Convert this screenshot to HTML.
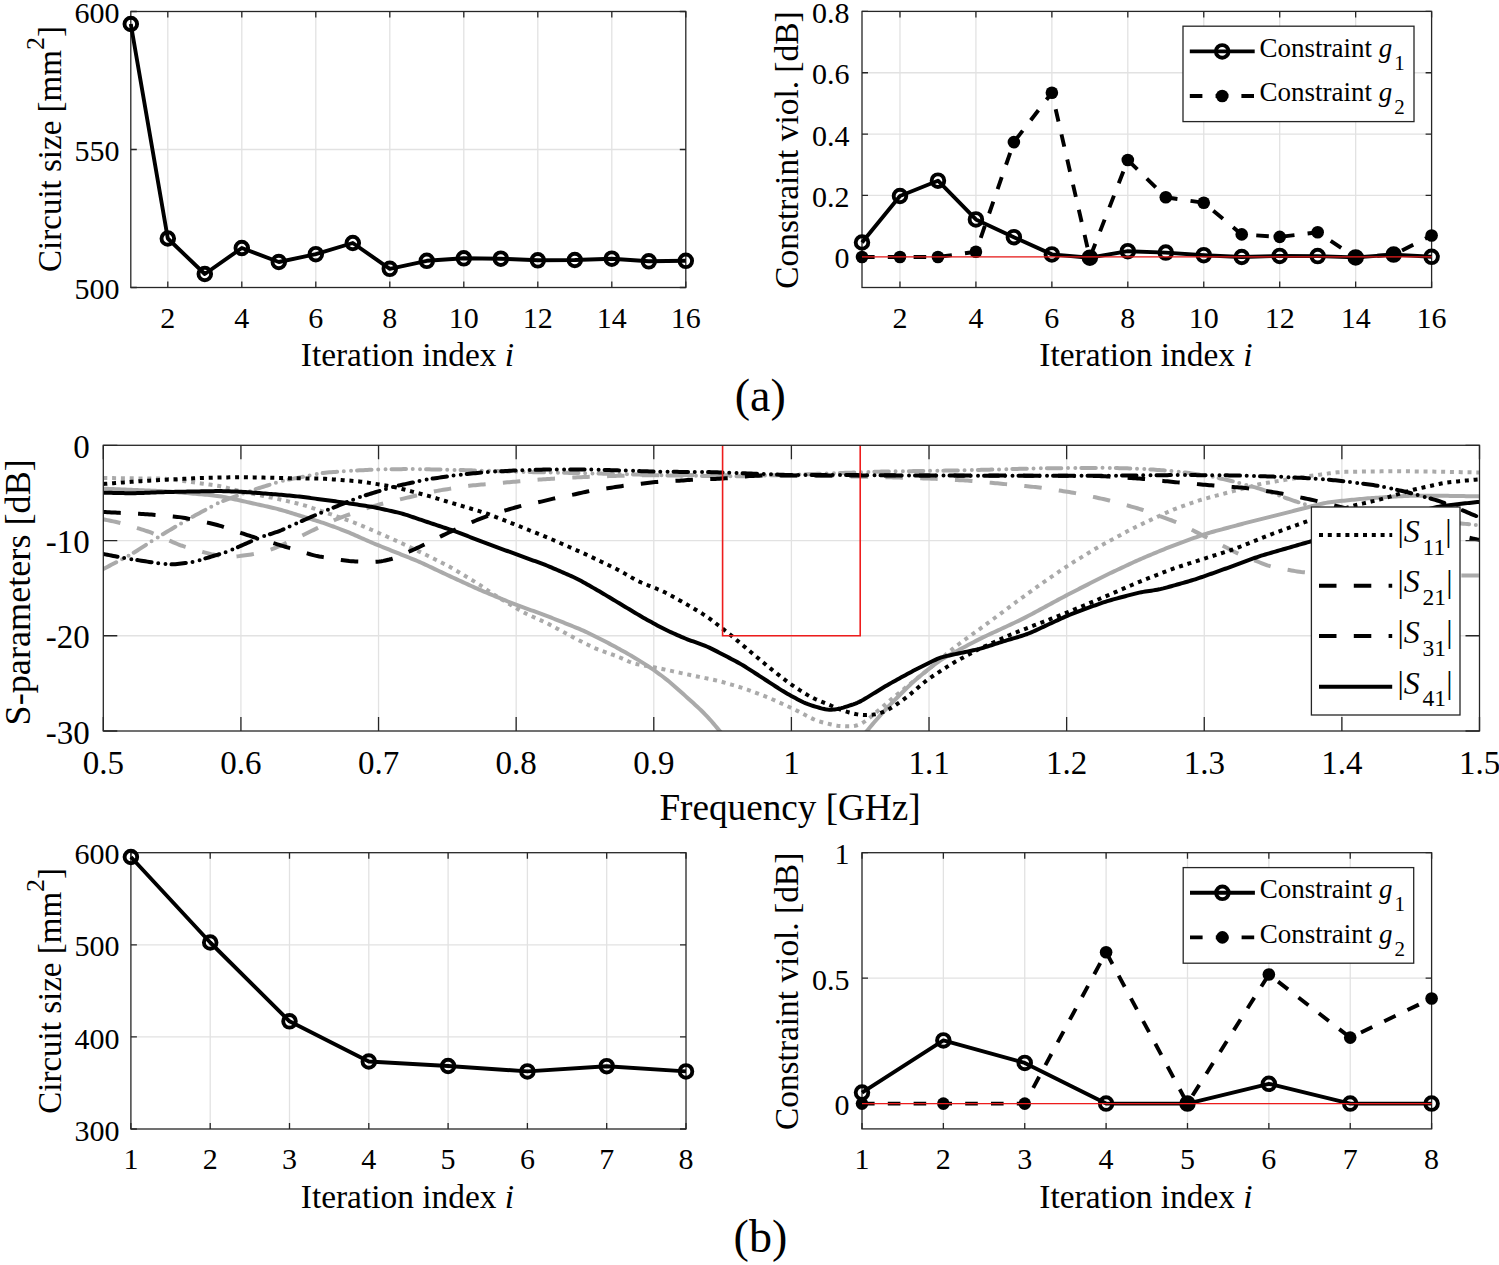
<!DOCTYPE html><html><head><meta charset="utf-8"><title>figure</title><style>
html,body{margin:0;padding:0;background:#fff;}svg{display:block;}
text{font-family:"Liberation Serif", serif;fill:#000;}
.grid{stroke:#e2e2e2;stroke-width:1.3;fill:none;}
.ax{stroke:#262626;stroke-width:1.3;fill:none;}
.dl{stroke:#000;stroke-width:3.9;fill:none;stroke-linejoin:round;}
.mk{stroke:#000;stroke-width:3.9;fill:none;}
.s{fill:none;stroke-width:4;stroke-linejoin:round;}
</style></head><body>
<svg width="1499" height="1265" viewBox="0 0 1499 1265">
<rect width="1499" height="1265" fill="#fff"/>
<line x1="167.8" y1="11.5" x2="167.8" y2="287.5" class="grid"/>
<line x1="241.8" y1="11.5" x2="241.8" y2="287.5" class="grid"/>
<line x1="315.8" y1="11.5" x2="315.8" y2="287.5" class="grid"/>
<line x1="389.8" y1="11.5" x2="389.8" y2="287.5" class="grid"/>
<line x1="463.8" y1="11.5" x2="463.8" y2="287.5" class="grid"/>
<line x1="537.8" y1="11.5" x2="537.8" y2="287.5" class="grid"/>
<line x1="611.8" y1="11.5" x2="611.8" y2="287.5" class="grid"/>
<line x1="130.8" y1="149.5" x2="685.8" y2="149.5" class="grid"/>
<rect x="130.8" y="11.5" width="555" height="276" class="ax"/>
<path d="M167.8,287.5v-6 M167.8,11.5v6 M241.8,287.5v-6 M241.8,11.5v6 M315.8,287.5v-6 M315.8,11.5v6 M389.8,287.5v-6 M389.8,11.5v6 M463.8,287.5v-6 M463.8,11.5v6 M537.8,287.5v-6 M537.8,11.5v6 M611.8,287.5v-6 M611.8,11.5v6 M685.8,287.5v-6 M685.8,11.5v6 M130.8,287.5h6 M685.8,287.5h-6 M130.8,149.5h6 M685.8,149.5h-6 M130.8,11.5h6 M685.8,11.5h-6" class="ax"/>
<polyline points="130.8,24 167.8,238.5 204.8,274 241.8,248 278.8,262 315.8,254.2 352.8,243 389.8,268.8 426.8,260.8 463.8,258.3 500.8,258.7 537.8,260.3 574.8,260 611.8,258.7 648.8,261.3 685.8,260.8" class="dl"/>
<circle cx="130.8" cy="24" r="6.3" class="mk"/>
<circle cx="167.8" cy="238.5" r="6.3" class="mk"/>
<circle cx="204.8" cy="274" r="6.3" class="mk"/>
<circle cx="241.8" cy="248" r="6.3" class="mk"/>
<circle cx="278.8" cy="262" r="6.3" class="mk"/>
<circle cx="315.8" cy="254.2" r="6.3" class="mk"/>
<circle cx="352.8" cy="243" r="6.3" class="mk"/>
<circle cx="389.8" cy="268.8" r="6.3" class="mk"/>
<circle cx="426.8" cy="260.8" r="6.3" class="mk"/>
<circle cx="463.8" cy="258.3" r="6.3" class="mk"/>
<circle cx="500.8" cy="258.7" r="6.3" class="mk"/>
<circle cx="537.8" cy="260.3" r="6.3" class="mk"/>
<circle cx="574.8" cy="260" r="6.3" class="mk"/>
<circle cx="611.8" cy="258.7" r="6.3" class="mk"/>
<circle cx="648.8" cy="261.3" r="6.3" class="mk"/>
<circle cx="685.8" cy="260.8" r="6.3" class="mk"/>
<text x="167.8" y="327.5" font-size="30" text-anchor="middle">2</text>
<text x="241.8" y="327.5" font-size="30" text-anchor="middle">4</text>
<text x="315.8" y="327.5" font-size="30" text-anchor="middle">6</text>
<text x="389.8" y="327.5" font-size="30" text-anchor="middle">8</text>
<text x="463.8" y="327.5" font-size="30" text-anchor="middle">10</text>
<text x="537.8" y="327.5" font-size="30" text-anchor="middle">12</text>
<text x="611.8" y="327.5" font-size="30" text-anchor="middle">14</text>
<text x="685.8" y="327.5" font-size="30" text-anchor="middle">16</text>
<text x="119.5" y="299.1" font-size="30" text-anchor="end">500</text>
<text x="119.5" y="161.1" font-size="30" text-anchor="end">550</text>
<text x="119.5" y="23.1" font-size="30" text-anchor="end">600</text>
<text x="407.4" y="366.1" font-size="33.4" text-anchor="middle">Iteration index <tspan font-style="italic">i</tspan></text>
<text transform="translate(60.8,149) rotate(-90)" font-size="33" text-anchor="middle">Circuit size [mm<tspan font-size="26" dy="-16.5">2</tspan><tspan dy="16.5">]</tspan></text>
<line x1="899.97" y1="11.4" x2="899.97" y2="287.5" class="grid"/>
<line x1="975.92" y1="11.4" x2="975.92" y2="287.5" class="grid"/>
<line x1="1051.87" y1="11.4" x2="1051.87" y2="287.5" class="grid"/>
<line x1="1127.81" y1="11.4" x2="1127.81" y2="287.5" class="grid"/>
<line x1="1203.76" y1="11.4" x2="1203.76" y2="287.5" class="grid"/>
<line x1="1279.71" y1="11.4" x2="1279.71" y2="287.5" class="grid"/>
<line x1="1355.65" y1="11.4" x2="1355.65" y2="287.5" class="grid"/>
<line x1="862" y1="256.8" x2="1431.6" y2="256.8" class="grid"/>
<line x1="862" y1="195.45" x2="1431.6" y2="195.45" class="grid"/>
<line x1="862" y1="134.1" x2="1431.6" y2="134.1" class="grid"/>
<line x1="862" y1="72.75" x2="1431.6" y2="72.75" class="grid"/>
<rect x="862" y="11.4" width="569.6" height="276.1" class="ax"/>
<path d="M899.97,287.5v-6 M899.97,11.4v6 M975.92,287.5v-6 M975.92,11.4v6 M1051.87,287.5v-6 M1051.87,11.4v6 M1127.81,287.5v-6 M1127.81,11.4v6 M1203.76,287.5v-6 M1203.76,11.4v6 M1279.71,287.5v-6 M1279.71,11.4v6 M1355.65,287.5v-6 M1355.65,11.4v6 M1431.6,287.5v-6 M1431.6,11.4v6 M862,256.8h6 M1431.6,256.8h-6 M862,195.45h6 M1431.6,195.45h-6 M862,134.1h6 M1431.6,134.1h-6 M862,72.75h6 M1431.6,72.75h-6 M862,11.4h6 M1431.6,11.4h-6" class="ax"/>
<polyline points="862,242.5 899.97,196 937.95,180.7 975.92,219.4 1013.89,237.2 1051.87,254.4 1089.84,257.7 1127.81,251.2 1165.79,252.6 1203.76,255.2 1241.73,257 1279.71,255.9 1317.68,256.1 1355.65,257.4 1393.63,254.6 1431.6,256.8" class="dl"/>
<circle cx="862" cy="242.5" r="6.3" class="mk"/>
<circle cx="899.97" cy="196" r="6.3" class="mk"/>
<circle cx="937.95" cy="180.7" r="6.3" class="mk"/>
<circle cx="975.92" cy="219.4" r="6.3" class="mk"/>
<circle cx="1013.89" cy="237.2" r="6.3" class="mk"/>
<circle cx="1051.87" cy="254.4" r="6.3" class="mk"/>
<circle cx="1089.84" cy="257.7" r="6.3" class="mk"/>
<circle cx="1127.81" cy="251.2" r="6.3" class="mk"/>
<circle cx="1165.79" cy="252.6" r="6.3" class="mk"/>
<circle cx="1203.76" cy="255.2" r="6.3" class="mk"/>
<circle cx="1241.73" cy="257" r="6.3" class="mk"/>
<circle cx="1279.71" cy="255.9" r="6.3" class="mk"/>
<circle cx="1317.68" cy="256.1" r="6.3" class="mk"/>
<circle cx="1355.65" cy="257.4" r="6.3" class="mk"/>
<circle cx="1393.63" cy="254.6" r="6.3" class="mk"/>
<circle cx="1431.6" cy="256.8" r="6.3" class="mk"/>
<polyline points="862,257 899.97,257 937.95,257 975.92,251.8 1013.89,142.1 1051.87,92.7 1089.84,257.7 1127.81,160 1165.79,197.3 1203.76,202.7 1241.73,234.4 1279.71,236.9 1317.68,232.2 1355.65,257.4 1393.63,254.6 1431.6,235.5" class="dl" stroke-dasharray="12.6 13.2"/>
<circle cx="862" cy="257" r="6.3" fill="#000"/>
<circle cx="899.97" cy="257" r="6.3" fill="#000"/>
<circle cx="937.95" cy="257" r="6.3" fill="#000"/>
<circle cx="975.92" cy="251.8" r="6.3" fill="#000"/>
<circle cx="1013.89" cy="142.1" r="6.3" fill="#000"/>
<circle cx="1051.87" cy="92.7" r="6.3" fill="#000"/>
<circle cx="1089.84" cy="257.7" r="6.3" fill="#000"/>
<circle cx="1127.81" cy="160" r="6.3" fill="#000"/>
<circle cx="1165.79" cy="197.3" r="6.3" fill="#000"/>
<circle cx="1203.76" cy="202.7" r="6.3" fill="#000"/>
<circle cx="1241.73" cy="234.4" r="6.3" fill="#000"/>
<circle cx="1279.71" cy="236.9" r="6.3" fill="#000"/>
<circle cx="1317.68" cy="232.2" r="6.3" fill="#000"/>
<circle cx="1355.65" cy="257.4" r="6.3" fill="#000"/>
<circle cx="1393.63" cy="254.6" r="6.3" fill="#000"/>
<circle cx="1431.6" cy="235.5" r="6.3" fill="#000"/>
<line x1="862" y1="256.8" x2="1431.6" y2="256.8" stroke="#ee1c1c" stroke-width="1.3"/>
<text x="899.97" y="327.5" font-size="30" text-anchor="middle">2</text>
<text x="975.92" y="327.5" font-size="30" text-anchor="middle">4</text>
<text x="1051.87" y="327.5" font-size="30" text-anchor="middle">6</text>
<text x="1127.81" y="327.5" font-size="30" text-anchor="middle">8</text>
<text x="1203.76" y="327.5" font-size="30" text-anchor="middle">10</text>
<text x="1279.71" y="327.5" font-size="30" text-anchor="middle">12</text>
<text x="1355.65" y="327.5" font-size="30" text-anchor="middle">14</text>
<text x="1431.6" y="327.5" font-size="30" text-anchor="middle">16</text>
<text x="849.4" y="268.4" font-size="30" text-anchor="end">0</text>
<text x="849.4" y="207.05" font-size="30" text-anchor="end">0.2</text>
<text x="849.4" y="145.7" font-size="30" text-anchor="end">0.4</text>
<text x="849.4" y="84.35" font-size="30" text-anchor="end">0.6</text>
<text x="849.4" y="23" font-size="30" text-anchor="end">0.8</text>
<rect x="1183" y="26.2" width="231" height="95.4" class="ax" style="fill:#fff"/>
<line x1="1189.8" y1="51.4" x2="1254.7" y2="51.4" class="dl"/>
<circle cx="1222.2" cy="51.4" r="6.3" class="mk" fill="#fff"/>
<line x1="1189.8" y1="96" x2="1254.7" y2="96" class="dl" stroke-dasharray="12.6 13.2"/>
<circle cx="1222.2" cy="96" r="6.3" fill="#000"/>
<text x="1259.5" y="56.8" font-size="27">Constraint <tspan font-style="italic">g</tspan><tspan font-size="21" dx="2" dy="13">1</tspan></text>
<text x="1259.5" y="101.4" font-size="27">Constraint <tspan font-style="italic">g</tspan><tspan font-size="21" dx="2" dy="13">2</tspan></text>
<text x="1146" y="366.1" font-size="33.4" text-anchor="middle">Iteration index <tspan font-style="italic">i</tspan></text>
<text transform="translate(798,150.1) rotate(-90)" font-size="33.4" text-anchor="middle">Constraint viol. [dB]</text>
<text x="760.2" y="411.2" font-size="46" text-anchor="middle">(a)</text>
<line x1="210.2" y1="852.7" x2="210.2" y2="1129" class="grid"/>
<line x1="289.5" y1="852.7" x2="289.5" y2="1129" class="grid"/>
<line x1="368.8" y1="852.7" x2="368.8" y2="1129" class="grid"/>
<line x1="448.1" y1="852.7" x2="448.1" y2="1129" class="grid"/>
<line x1="527.4" y1="852.7" x2="527.4" y2="1129" class="grid"/>
<line x1="606.7" y1="852.7" x2="606.7" y2="1129" class="grid"/>
<line x1="130.9" y1="1036.9" x2="686" y2="1036.9" class="grid"/>
<line x1="130.9" y1="944.8" x2="686" y2="944.8" class="grid"/>
<rect x="130.9" y="852.7" width="555.1" height="276.3" class="ax"/>
<path d="M130.9,1129v-6 M130.9,852.7v6 M210.2,1129v-6 M210.2,852.7v6 M289.5,1129v-6 M289.5,852.7v6 M368.8,1129v-6 M368.8,852.7v6 M448.1,1129v-6 M448.1,852.7v6 M527.4,1129v-6 M527.4,852.7v6 M606.7,1129v-6 M606.7,852.7v6 M686,1129v-6 M686,852.7v6 M130.9,1129h6 M686,1129h-6 M130.9,1036.9h6 M686,1036.9h-6 M130.9,944.8h6 M686,944.8h-6 M130.9,852.7h6 M686,852.7h-6" class="ax"/>
<polyline points="130.9,857 210.2,942.5 289.5,1021.3 368.8,1061.5 448.1,1066 527.4,1071.4 606.7,1066.2 686,1071.4" class="dl"/>
<circle cx="130.9" cy="857" r="6.3" class="mk"/>
<circle cx="210.2" cy="942.5" r="6.3" class="mk"/>
<circle cx="289.5" cy="1021.3" r="6.3" class="mk"/>
<circle cx="368.8" cy="1061.5" r="6.3" class="mk"/>
<circle cx="448.1" cy="1066" r="6.3" class="mk"/>
<circle cx="527.4" cy="1071.4" r="6.3" class="mk"/>
<circle cx="606.7" cy="1066.2" r="6.3" class="mk"/>
<circle cx="686" cy="1071.4" r="6.3" class="mk"/>
<text x="130.9" y="1169" font-size="30" text-anchor="middle">1</text>
<text x="210.2" y="1169" font-size="30" text-anchor="middle">2</text>
<text x="289.5" y="1169" font-size="30" text-anchor="middle">3</text>
<text x="368.8" y="1169" font-size="30" text-anchor="middle">4</text>
<text x="448.1" y="1169" font-size="30" text-anchor="middle">5</text>
<text x="527.4" y="1169" font-size="30" text-anchor="middle">6</text>
<text x="606.7" y="1169" font-size="30" text-anchor="middle">7</text>
<text x="686" y="1169" font-size="30" text-anchor="middle">8</text>
<text x="119.6" y="1140.6" font-size="30" text-anchor="end">300</text>
<text x="119.6" y="1048.5" font-size="30" text-anchor="end">400</text>
<text x="119.6" y="956.4" font-size="30" text-anchor="end">500</text>
<text x="119.6" y="864.3" font-size="30" text-anchor="end">600</text>
<text x="407.4" y="1207.5" font-size="33.4" text-anchor="middle">Iteration index <tspan font-style="italic">i</tspan></text>
<text transform="translate(60.8,990.8) rotate(-90)" font-size="33" text-anchor="middle">Circuit size [mm<tspan font-size="26" dy="-16.5">2</tspan><tspan dy="16.5">]</tspan></text>
<line x1="943.37" y1="852.7" x2="943.37" y2="1128.9" class="grid"/>
<line x1="1024.74" y1="852.7" x2="1024.74" y2="1128.9" class="grid"/>
<line x1="1106.11" y1="852.7" x2="1106.11" y2="1128.9" class="grid"/>
<line x1="1187.49" y1="852.7" x2="1187.49" y2="1128.9" class="grid"/>
<line x1="1268.86" y1="852.7" x2="1268.86" y2="1128.9" class="grid"/>
<line x1="1350.23" y1="852.7" x2="1350.23" y2="1128.9" class="grid"/>
<line x1="862" y1="1103.6" x2="1431.6" y2="1103.6" class="grid"/>
<line x1="862" y1="978.15" x2="1431.6" y2="978.15" class="grid"/>
<rect x="862" y="852.7" width="569.6" height="276.2" class="ax"/>
<path d="M862,1128.9v-6 M862,852.7v6 M943.37,1128.9v-6 M943.37,852.7v6 M1024.74,1128.9v-6 M1024.74,852.7v6 M1106.11,1128.9v-6 M1106.11,852.7v6 M1187.49,1128.9v-6 M1187.49,852.7v6 M1268.86,1128.9v-6 M1268.86,852.7v6 M1350.23,1128.9v-6 M1350.23,852.7v6 M1431.6,1128.9v-6 M1431.6,852.7v6 M862,1103.6h6 M1431.6,1103.6h-6 M862,978.15h6 M1431.6,978.15h-6 M862,852.7h6 M1431.6,852.7h-6" class="ax"/>
<polyline points="862,1092.6 943.37,1040.4 1024.74,1062.9 1106.11,1103.6 1187.49,1103.6 1268.86,1083.8 1350.23,1103.6 1431.6,1103.6" class="dl"/>
<circle cx="862" cy="1092.6" r="6.3" class="mk"/>
<circle cx="943.37" cy="1040.4" r="6.3" class="mk"/>
<circle cx="1024.74" cy="1062.9" r="6.3" class="mk"/>
<circle cx="1106.11" cy="1103.6" r="6.3" class="mk"/>
<circle cx="1187.49" cy="1103.6" r="6.3" class="mk"/>
<circle cx="1268.86" cy="1083.8" r="6.3" class="mk"/>
<circle cx="1350.23" cy="1103.6" r="6.3" class="mk"/>
<circle cx="1431.6" cy="1103.6" r="6.3" class="mk"/>
<polyline points="862,1103.6 943.37,1103.6 1024.74,1103.6 1106.11,952.2 1187.49,1103.6 1268.86,974.5 1350.23,1037.6 1431.6,998.5" class="dl" stroke-dasharray="12.6 13.2"/>
<circle cx="862" cy="1103.6" r="6.3" fill="#000"/>
<circle cx="943.37" cy="1103.6" r="6.3" fill="#000"/>
<circle cx="1024.74" cy="1103.6" r="6.3" fill="#000"/>
<circle cx="1106.11" cy="952.2" r="6.3" fill="#000"/>
<circle cx="1187.49" cy="1103.6" r="6.3" fill="#000"/>
<circle cx="1268.86" cy="974.5" r="6.3" fill="#000"/>
<circle cx="1350.23" cy="1037.6" r="6.3" fill="#000"/>
<circle cx="1431.6" cy="998.5" r="6.3" fill="#000"/>
<line x1="862" y1="1103.6" x2="1431.6" y2="1103.6" stroke="#ee1c1c" stroke-width="1.3"/>
<text x="862" y="1169" font-size="30" text-anchor="middle">1</text>
<text x="943.37" y="1169" font-size="30" text-anchor="middle">2</text>
<text x="1024.74" y="1169" font-size="30" text-anchor="middle">3</text>
<text x="1106.11" y="1169" font-size="30" text-anchor="middle">4</text>
<text x="1187.49" y="1169" font-size="30" text-anchor="middle">5</text>
<text x="1268.86" y="1169" font-size="30" text-anchor="middle">6</text>
<text x="1350.23" y="1169" font-size="30" text-anchor="middle">7</text>
<text x="1431.6" y="1169" font-size="30" text-anchor="middle">8</text>
<text x="849.4" y="1115.2" font-size="30" text-anchor="end">0</text>
<text x="849.4" y="989.75" font-size="30" text-anchor="end">0.5</text>
<text x="849.4" y="864.3" font-size="30" text-anchor="end">1</text>
<rect x="1183.2" y="867.6" width="230.5" height="95.6" class="ax" style="fill:#fff"/>
<line x1="1190" y1="892.8" x2="1254.9" y2="892.8" class="dl"/>
<circle cx="1222.4" cy="892.8" r="6.3" class="mk" fill="#fff"/>
<line x1="1190" y1="937.4" x2="1254.9" y2="937.4" class="dl" stroke-dasharray="12.6 13.2"/>
<circle cx="1222.4" cy="937.4" r="6.3" fill="#000"/>
<text x="1259.7" y="898.2" font-size="27">Constraint <tspan font-style="italic">g</tspan><tspan font-size="21" dx="2" dy="13">1</tspan></text>
<text x="1259.7" y="942.8" font-size="27">Constraint <tspan font-style="italic">g</tspan><tspan font-size="21" dx="2" dy="13">2</tspan></text>
<text x="1146" y="1207.5" font-size="33.4" text-anchor="middle">Iteration index <tspan font-style="italic">i</tspan></text>
<text transform="translate(798,991.4) rotate(-90)" font-size="33.4" text-anchor="middle">Constraint viol. [dB]</text>
<text x="760.4" y="1252.1" font-size="46" text-anchor="middle">(b)</text>
<line x1="240.92" y1="445.3" x2="240.92" y2="731" class="grid"/>
<line x1="378.54" y1="445.3" x2="378.54" y2="731" class="grid"/>
<line x1="516.16" y1="445.3" x2="516.16" y2="731" class="grid"/>
<line x1="653.78" y1="445.3" x2="653.78" y2="731" class="grid"/>
<line x1="791.4" y1="445.3" x2="791.4" y2="731" class="grid"/>
<line x1="929.02" y1="445.3" x2="929.02" y2="731" class="grid"/>
<line x1="1066.64" y1="445.3" x2="1066.64" y2="731" class="grid"/>
<line x1="1204.26" y1="445.3" x2="1204.26" y2="731" class="grid"/>
<line x1="1341.88" y1="445.3" x2="1341.88" y2="731" class="grid"/>
<line x1="103.3" y1="540.53" x2="1479.5" y2="540.53" class="grid"/>
<line x1="103.3" y1="635.77" x2="1479.5" y2="635.77" class="grid"/>
<defs><clipPath id="mclip"><rect x="103.3" y="445.3" width="1376.2" height="285.7"/></clipPath></defs>
<g clip-path="url(#mclip)">
<path d="M103.3,478 L105.3,478.02 L107.3,478.04 L109.3,478.07 L111.3,478.09 L113.3,478.11 L115.3,478.13 L117.3,478.15 L119.3,478.18 L121.3,478.2 L123.3,478.22 L125.3,478.24 L127.3,478.26 L129.3,478.29 L131.3,478.31 L133.3,478.33 L135.3,478.35 L137.3,478.38 L139.3,478.4 L141.3,478.42 L143.3,478.44 L145.3,478.46 L147.3,478.49 L149.3,478.51 L151.3,478.53 L153.3,478.55 L155.3,478.57 L157.3,478.6 L159.3,478.62 L161.3,478.66 L163.3,478.72 L165.3,478.81 L167.3,478.95 L169.3,479.13 L171.3,479.36 L173.3,479.61 L175.3,479.88 L177.3,480.15 L179.3,480.43 L181.3,480.7 L183.3,480.97 L185.3,481.25 L187.3,481.52 L189.3,481.8 L191.3,482.07 L193.3,482.34 L195.3,482.62 L197.3,482.89 L199.3,483.16 L201.3,483.44 L203.3,483.71 L205.3,483.99 L207.3,484.26 L209.3,484.54 L211.3,484.81 L213.3,485.09 L215.3,485.38 L217.3,485.7 L219.3,486.05 L221.3,486.45 L223.3,486.89 L225.3,487.36 L227.3,487.85 L229.3,488.35 L231.3,488.85 L233.3,489.35 L235.3,489.86 L237.3,490.35 L239.3,490.83 L241.3,491.3 L243.3,491.75 L245.3,492.18 L247.3,492.6 L249.3,493.02 L251.3,493.44 L253.3,493.85 L255.3,494.27 L257.3,494.69 L259.3,495.1 L261.3,495.52 L263.3,495.93 L265.3,496.35 L267.3,496.76 L269.3,497.18 L271.3,497.59 L273.3,498.01 L275.3,498.43 L277.3,498.86 L279.3,499.29 L281.3,499.74 L283.3,500.2 L285.3,500.66 L287.3,501.13 L289.3,501.61 L291.3,502.08 L293.3,502.56 L295.3,503.03 L297.3,503.51 L299.3,504.01 L301.3,504.53 L303.3,505.08 L305.3,505.67 L307.3,506.3 L309.3,506.96 L311.3,507.63 L313.3,508.31 L315.3,508.99 L317.3,509.67 L319.3,510.35 L321.3,511.03 L323.3,511.72 L325.3,512.4 L327.3,513.09 L329.3,513.77 L331.3,514.46 L333.3,515.16 L335.3,515.86 L337.3,516.56 L339.3,517.26 L341.3,517.96 L343.3,518.66 L345.3,519.36 L347.3,520.06 L349.3,520.77 L351.3,521.5 L353.3,522.25 L355.3,523.03 L357.3,523.84 L359.3,524.67 L361.3,525.51 L363.3,526.35 L365.3,527.2 L367.3,528.05 L369.3,528.9 L371.3,529.75 L373.3,530.61 L375.3,531.47 L377.3,532.33 L379.3,533.21 L381.3,534.1 L383.3,534.99 L385.3,535.89 L387.3,536.79 L389.3,537.69 L391.3,538.59 L393.3,539.49 L395.3,540.39 L397.3,541.29 L399.3,542.2 L401.3,543.12 L403.3,544.04 L405.3,544.98 L407.3,545.92 L409.3,546.87 L411.3,547.82 L413.3,548.77 L415.3,549.72 L417.3,550.67 L419.3,551.62 L421.3,552.57 L423.3,553.53 L425.3,554.5 L427.3,555.48 L429.3,556.46 L431.3,557.45 L433.3,558.45 L435.3,559.45 L437.3,560.45 L439.3,561.45 L441.3,562.45 L443.3,563.46 L445.3,564.47 L447.3,565.51 L449.3,566.58 L451.3,567.69 L453.3,568.84 L455.3,570.02 L457.3,571.21 L459.3,572.41 L461.3,573.62 L463.3,574.82 L465.3,576.03 L467.3,577.24 L469.3,578.44 L471.3,579.65 L473.3,580.87 L475.3,582.09 L477.3,583.33 L479.3,584.61 L481.3,585.93 L483.3,587.28 L485.3,588.66 L487.3,590.06 L489.3,591.45 L491.3,592.83 L493.3,594.17 L495.3,595.47 L497.3,596.73 L499.3,597.96 L501.3,599.17 L503.3,600.38 L505.3,601.58 L507.3,602.78 L509.3,603.98 L511.3,605.18 L513.3,606.38 L515.3,607.58 L517.3,608.77 L519.3,609.94 L521.3,611.09 L523.3,612.19 L525.3,613.22 L527.3,614.21 L529.3,615.15 L531.3,616.06 L533.3,616.97 L535.3,617.86 L537.3,618.76 L539.3,619.66 L541.3,620.56 L543.3,621.47 L545.3,622.4 L547.3,623.37 L549.3,624.37 L551.3,625.41 L553.3,626.48 L555.3,627.57 L557.3,628.66 L559.3,629.76 L561.3,630.86 L563.3,631.96 L565.3,633.06 L567.3,634.15 L569.3,635.23 L571.3,636.3 L573.3,637.36 L575.3,638.39 L577.3,639.41 L579.3,640.43 L581.3,641.44 L583.3,642.45 L585.3,643.45 L587.3,644.46 L589.3,645.46 L591.3,646.44 L593.3,647.4 L595.3,648.31 L597.3,649.16 L599.3,649.95 L601.3,650.7 L603.3,651.42 L605.3,652.13 L607.3,652.84 L609.3,653.54 L611.3,654.25 L613.3,654.96 L615.3,655.68 L617.3,656.44 L619.3,657.24 L621.3,658.1 L623.3,659.01 L625.3,659.95 L627.3,660.88 L629.3,661.76 L631.3,662.55 L633.3,663.21 L635.3,663.76 L637.3,664.22 L639.3,664.63 L641.3,665.01 L643.3,665.38 L645.3,665.75 L647.3,666.12 L649.3,666.48 L651.3,666.85 L653.3,667.22 L655.3,667.59 L657.3,667.97 L659.3,668.36 L661.3,668.76 L663.3,669.17 L665.3,669.6 L667.3,670.03 L669.3,670.47 L671.3,670.91 L673.3,671.34 L675.3,671.78 L677.3,672.22 L679.3,672.66 L681.3,673.1 L683.3,673.53 L685.3,673.96 L687.3,674.39 L689.3,674.81 L691.3,675.23 L693.3,675.64 L695.3,676.06 L697.3,676.48 L699.3,676.89 L701.3,677.31 L703.3,677.72 L705.3,678.14 L707.3,678.56 L709.3,678.97 L711.3,679.39 L713.3,679.81 L715.3,680.24 L717.3,680.69 L719.3,681.17 L721.3,681.68 L723.3,682.23 L725.3,682.8 L727.3,683.39 L729.3,683.99 L731.3,684.59 L733.3,685.19 L735.3,685.78 L737.3,686.38 L739.3,686.99 L741.3,687.6 L743.3,688.22 L745.3,688.87 L747.3,689.55 L749.3,690.26 L751.3,691 L753.3,691.76 L755.3,692.53 L757.3,693.31 L759.3,694.08 L761.3,694.85 L763.3,695.63 L765.3,696.42 L767.3,697.22 L769.3,698.04 L771.3,698.88 L773.3,699.75 L775.3,700.65 L777.3,701.55 L779.3,702.46 L781.3,703.37 L783.3,704.29 L785.3,705.2 L787.3,706.12 L789.3,707.04 L791.3,707.98 L793.3,708.93 L795.3,709.91 L797.3,710.91 L799.3,711.94 L801.3,712.98 L803.3,714.02 L805.3,715.07 L807.3,716.12 L809.3,717.16 L811.3,718.16 L813.3,719.11 L815.3,719.98 L817.3,720.73 L819.3,721.39 L821.3,721.96 L823.3,722.49 L825.3,723 L827.3,723.5 L829.3,723.99 L831.3,724.47 L833.3,724.92 L835.3,725.32 L837.3,725.66 L839.3,725.9 L841.3,726.08 L843.3,726.19 L845.3,726.28 L847.3,726.34 L849.3,726.34 L851.3,726.27 L853.3,726.07 L855.3,725.71 L857.3,725.19 L859.3,724.47 L861.3,723.55 L863.3,722.42 L865.3,721.1 L867.3,719.63 L869.3,718.06 L871.3,716.44 L873.3,714.78 L875.3,713.1 L877.3,711.39 L879.3,709.66 L881.3,707.92 L883.3,706.19 L885.3,704.45 L887.3,702.71 L889.3,700.99 L891.3,699.28 L893.3,697.59 L895.3,695.94 L897.3,694.3 L899.3,692.69 L901.3,691.08 L903.3,689.48 L905.3,687.88 L907.3,686.28 L909.3,684.68 L911.3,683.08 L913.3,681.48 L915.3,679.88 L917.3,678.28 L919.3,676.68 L921.3,675.08 L923.3,673.48 L925.3,671.88 L927.3,670.27 L929.3,668.66 L931.3,667.03 L933.3,665.37 L935.3,663.69 L937.3,661.98 L939.3,660.26 L941.3,658.52 L943.3,656.79 L945.3,655.05 L947.3,653.32 L949.3,651.61 L951.3,649.94 L953.3,648.31 L955.3,646.75 L957.3,645.24 L959.3,643.76 L961.3,642.31 L963.3,640.86 L965.3,639.41 L967.3,637.97 L969.3,636.53 L971.3,635.09 L973.3,633.64 L975.3,632.2 L977.3,630.75 L979.3,629.31 L981.3,627.85 L983.3,626.39 L985.3,624.92 L987.3,623.45 L989.3,621.97 L991.3,620.48 L993.3,619 L995.3,617.51 L997.3,616.02 L999.3,614.54 L1001.3,613.05 L1003.3,611.56 L1005.3,610.08 L1007.3,608.6 L1009.3,607.11 L1011.3,605.64 L1013.3,604.16 L1015.3,602.7 L1017.3,601.23 L1019.3,599.77 L1021.3,598.31 L1023.3,596.85 L1025.3,595.39 L1027.3,593.93 L1029.3,592.47 L1031.3,591.01 L1033.3,589.55 L1035.3,588.1 L1037.3,586.66 L1039.3,585.23 L1041.3,583.82 L1043.3,582.43 L1045.3,581.05 L1047.3,579.67 L1049.3,578.3 L1051.3,576.93 L1053.3,575.57 L1055.3,574.2 L1057.3,572.83 L1059.3,571.46 L1061.3,570.1 L1063.3,568.74 L1065.3,567.39 L1067.3,566.07 L1069.3,564.77 L1071.3,563.49 L1073.3,562.25 L1075.3,561.01 L1077.3,559.78 L1079.3,558.56 L1081.3,557.34 L1083.3,556.12 L1085.3,554.89 L1087.3,553.67 L1089.3,552.45 L1091.3,551.23 L1093.3,550.03 L1095.3,548.83 L1097.3,547.67 L1099.3,546.53 L1101.3,545.41 L1103.3,544.31 L1105.3,543.22 L1107.3,542.14 L1109.3,541.05 L1111.3,539.97 L1113.3,538.89 L1115.3,537.8 L1117.3,536.72 L1119.3,535.64 L1121.3,534.55 L1123.3,533.47 L1125.3,532.39 L1127.3,531.31 L1129.3,530.24 L1131.3,529.19 L1133.3,528.17 L1135.3,527.18 L1137.3,526.21 L1139.3,525.27 L1141.3,524.33 L1143.3,523.4 L1145.3,522.47 L1147.3,521.54 L1149.3,520.61 L1151.3,519.68 L1153.3,518.75 L1155.3,517.82 L1157.3,516.89 L1159.3,515.96 L1161.3,515.03 L1163.3,514.1 L1165.3,513.17 L1167.3,512.25 L1169.3,511.34 L1171.3,510.46 L1173.3,509.62 L1175.3,508.82 L1177.3,508.06 L1179.3,507.33 L1181.3,506.61 L1183.3,505.9 L1185.3,505.19 L1187.3,504.49 L1189.3,503.78 L1191.3,503.08 L1193.3,502.37 L1195.3,501.68 L1197.3,501.01 L1199.3,500.36 L1201.3,499.75 L1203.3,499.17 L1205.3,498.61 L1207.3,498.07 L1209.3,497.54 L1211.3,497.01 L1213.3,496.48 L1215.3,495.94 L1217.3,495.41 L1219.3,494.88 L1221.3,494.35 L1223.3,493.82 L1225.3,493.28 L1227.3,492.75 L1229.3,492.21 L1231.3,491.68 L1233.3,491.14 L1235.3,490.61 L1237.3,490.07 L1239.3,489.54 L1241.3,489 L1243.3,488.47 L1245.3,487.93 L1247.3,487.4 L1249.3,486.86 L1251.3,486.33 L1253.3,485.8 L1255.3,485.28 L1257.3,484.78 L1259.3,484.32 L1261.3,483.89 L1263.3,483.5 L1265.3,483.14 L1267.3,482.8 L1269.3,482.47 L1271.3,482.14 L1273.3,481.81 L1275.3,481.48 L1277.3,481.15 L1279.3,480.82 L1281.3,480.49 L1283.3,480.16 L1285.3,479.83 L1287.3,479.5 L1289.3,479.17 L1291.3,478.84 L1293.3,478.51 L1295.3,478.18 L1297.3,477.86 L1299.3,477.55 L1301.3,477.25 L1303.3,476.96 L1305.3,476.67 L1307.3,476.39 L1309.3,476.12 L1311.3,475.84 L1313.3,475.56 L1315.3,475.29 L1317.3,475.01 L1319.3,474.73 L1321.3,474.46 L1323.3,474.18 L1325.3,473.9 L1327.3,473.63 L1329.3,473.35 L1331.3,473.08 L1333.3,472.81 L1335.3,472.55 L1337.3,472.33 L1339.3,472.14 L1341.3,472 L1343.3,471.91 L1345.3,471.85 L1347.3,471.81 L1349.3,471.78 L1351.3,471.75 L1353.3,471.72 L1355.3,471.7 L1357.3,471.67 L1359.3,471.64 L1361.3,471.62 L1363.3,471.59 L1365.3,471.56 L1367.3,471.54 L1369.3,471.51 L1371.3,471.49 L1373.3,471.46 L1375.3,471.43 L1377.3,471.41 L1379.3,471.38 L1381.3,471.35 L1383.3,471.33 L1385.3,471.3 L1387.3,471.28 L1389.3,471.26 L1391.3,471.24 L1393.3,471.24 L1395.3,471.24 L1397.3,471.25 L1399.3,471.27 L1401.3,471.28 L1403.3,471.3 L1405.3,471.32 L1407.3,471.34 L1409.3,471.36 L1411.3,471.38 L1413.3,471.4 L1415.3,471.42 L1417.3,471.44 L1419.3,471.46 L1421.3,471.49 L1423.3,471.51 L1425.3,471.53 L1427.3,471.55 L1429.3,471.57 L1431.3,471.6 L1433.3,471.62 L1435.3,471.66 L1437.3,471.69 L1439.3,471.73 L1441.3,471.77 L1443.3,471.8 L1445.3,471.84 L1447.3,471.88 L1449.3,471.92 L1451.3,471.96 L1453.3,472 L1455.3,472.03 L1457.3,472.07 L1459.3,472.11 L1461.3,472.15 L1463.3,472.19 L1465.3,472.23 L1467.3,472.27 L1469.3,472.3 L1471.3,472.34 L1473.3,472.38 L1475.3,472.41 L1477.3,472.44 L1479.3,472.47 L1479.5,472.49" class="s" stroke="#aaaaaa" stroke-dasharray="4 4.8"/>
<path d="M103.3,488.7 L105.3,488.78 L107.3,488.86 L109.3,488.95 L111.3,489.03 L113.3,489.11 L115.3,489.19 L117.3,489.27 L119.3,489.36 L121.3,489.44 L123.3,489.52 L125.3,489.6 L127.3,489.68 L129.3,489.77 L131.3,489.85 L133.3,489.93 L135.3,490.01 L137.3,490.09 L139.3,490.18 L141.3,490.26 L143.3,490.34 L145.3,490.42 L147.3,490.5 L149.3,490.59 L151.3,490.67 L153.3,490.75 L155.3,490.84 L157.3,490.92 L159.3,491.01 L161.3,491.11 L163.3,491.21 L165.3,491.33 L167.3,491.45 L169.3,491.59 L171.3,491.74 L173.3,491.9 L175.3,492.07 L177.3,492.24 L179.3,492.41 L181.3,492.59 L183.3,492.76 L185.3,492.94 L187.3,493.12 L189.3,493.29 L191.3,493.47 L193.3,493.65 L195.3,493.82 L197.3,494 L199.3,494.17 L201.3,494.35 L203.3,494.53 L205.3,494.71 L207.3,494.88 L209.3,495.07 L211.3,495.26 L213.3,495.46 L215.3,495.69 L217.3,495.94 L219.3,496.22 L221.3,496.54 L223.3,496.89 L225.3,497.27 L227.3,497.68 L229.3,498.1 L231.3,498.54 L233.3,498.98 L235.3,499.43 L237.3,499.87 L239.3,500.32 L241.3,500.77 L243.3,501.21 L245.3,501.66 L247.3,502.11 L249.3,502.55 L251.3,503 L253.3,503.44 L255.3,503.89 L257.3,504.34 L259.3,504.78 L261.3,505.23 L263.3,505.67 L265.3,506.12 L267.3,506.57 L269.3,507.02 L271.3,507.48 L273.3,507.94 L275.3,508.42 L277.3,508.92 L279.3,509.44 L281.3,509.99 L283.3,510.56 L285.3,511.16 L287.3,511.77 L289.3,512.39 L291.3,513.02 L293.3,513.65 L295.3,514.28 L297.3,514.91 L299.3,515.53 L301.3,516.15 L303.3,516.77 L305.3,517.38 L307.3,517.98 L309.3,518.59 L311.3,519.19 L313.3,519.8 L315.3,520.4 L317.3,521.02 L319.3,521.65 L321.3,522.29 L323.3,522.94 L325.3,523.62 L327.3,524.32 L329.3,525.03 L331.3,525.76 L333.3,526.5 L335.3,527.25 L337.3,528 L339.3,528.75 L341.3,529.52 L343.3,530.29 L345.3,531.08 L347.3,531.89 L349.3,532.72 L351.3,533.57 L353.3,534.43 L355.3,535.31 L357.3,536.2 L359.3,537.09 L361.3,537.98 L363.3,538.88 L365.3,539.77 L367.3,540.65 L369.3,541.52 L371.3,542.38 L373.3,543.23 L375.3,544.06 L377.3,544.89 L379.3,545.7 L381.3,546.51 L383.3,547.32 L385.3,548.12 L387.3,548.92 L389.3,549.72 L391.3,550.52 L393.3,551.32 L395.3,552.12 L397.3,552.92 L399.3,553.72 L401.3,554.52 L403.3,555.32 L405.3,556.12 L407.3,556.92 L409.3,557.73 L411.3,558.54 L413.3,559.35 L415.3,560.18 L417.3,561.02 L419.3,561.88 L421.3,562.77 L423.3,563.67 L425.3,564.59 L427.3,565.52 L429.3,566.47 L431.3,567.42 L433.3,568.37 L435.3,569.33 L437.3,570.28 L439.3,571.23 L441.3,572.18 L443.3,573.12 L445.3,574.06 L447.3,574.99 L449.3,575.92 L451.3,576.84 L453.3,577.76 L455.3,578.68 L457.3,579.6 L459.3,580.51 L461.3,581.43 L463.3,582.35 L465.3,583.26 L467.3,584.18 L469.3,585.09 L471.3,586 L473.3,586.91 L475.3,587.81 L477.3,588.7 L479.3,589.58 L481.3,590.45 L483.3,591.31 L485.3,592.16 L487.3,593 L489.3,593.83 L491.3,594.66 L493.3,595.48 L495.3,596.31 L497.3,597.14 L499.3,597.96 L501.3,598.78 L503.3,599.6 L505.3,600.42 L507.3,601.23 L509.3,602.03 L511.3,602.81 L513.3,603.59 L515.3,604.36 L517.3,605.11 L519.3,605.85 L521.3,606.59 L523.3,607.33 L525.3,608.06 L527.3,608.79 L529.3,609.53 L531.3,610.26 L533.3,610.99 L535.3,611.72 L537.3,612.45 L539.3,613.19 L541.3,613.93 L543.3,614.67 L545.3,615.42 L547.3,616.18 L549.3,616.94 L551.3,617.72 L553.3,618.5 L555.3,619.29 L557.3,620.09 L559.3,620.88 L561.3,621.68 L563.3,622.48 L565.3,623.28 L567.3,624.08 L569.3,624.88 L571.3,625.68 L573.3,626.49 L575.3,627.3 L577.3,628.12 L579.3,628.96 L581.3,629.81 L583.3,630.69 L585.3,631.6 L587.3,632.53 L589.3,633.49 L591.3,634.47 L593.3,635.46 L595.3,636.46 L597.3,637.46 L599.3,638.47 L601.3,639.49 L603.3,640.51 L605.3,641.54 L607.3,642.59 L609.3,643.64 L611.3,644.7 L613.3,645.78 L615.3,646.86 L617.3,647.95 L619.3,649.05 L621.3,650.14 L623.3,651.25 L625.3,652.36 L627.3,653.49 L629.3,654.63 L631.3,655.79 L633.3,656.97 L635.3,658.17 L637.3,659.4 L639.3,660.63 L641.3,661.89 L643.3,663.15 L645.3,664.42 L647.3,665.71 L649.3,667.02 L651.3,668.35 L653.3,669.72 L655.3,671.12 L657.3,672.55 L659.3,674.02 L661.3,675.51 L663.3,677.03 L665.3,678.58 L667.3,680.17 L669.3,681.8 L671.3,683.46 L673.3,685.17 L675.3,686.91 L677.3,688.68 L679.3,690.47 L681.3,692.27 L683.3,694.07 L685.3,695.87 L687.3,697.67 L689.3,699.47 L691.3,701.27 L693.3,703.07 L695.3,704.9 L697.3,706.74 L699.3,708.62 L701.3,710.54 L703.3,712.51 L705.3,714.54 L707.3,716.63 L709.3,718.8 L711.3,721.04 L713.3,723.35 L715.3,725.72 L717.3,728.11 L719.3,730.48 L721.3,732.77 L723.3,734.93 L725.3,736.9 L726,738.65" class="s" stroke="#aaaaaa" />
<path d="M856,745.02 L858,742.38 L860,739.77 L862,737.18 L864,734.62 L866,732.12 L868,729.66 L870,727.24 L872,724.88 L874,722.54 L876,720.24 L878,717.96 L880,715.7 L882,713.47 L884,711.26 L886,709.09 L888,706.96 L890,704.87 L892,702.81 L894,700.77 L896,698.76 L898,696.75 L900,694.76 L902,692.77 L904,690.79 L906,688.83 L908,686.9 L910,684.99 L912,683.13 L914,681.32 L916,679.56 L918,677.85 L920,676.17 L922,674.52 L924,672.89 L926,671.27 L928,669.67 L930,668.08 L932,666.5 L934,664.96 L936,663.46 L938,662.02 L940,660.64 L942,659.34 L944,658.11 L946,656.94 L948,655.81 L950,654.71 L952,653.62 L954,652.55 L956,651.48 L958,650.42 L960,649.35 L962,648.29 L964,647.22 L966,646.16 L968,645.09 L970,644.03 L972,642.98 L974,641.93 L976,640.89 L978,639.87 L980,638.87 L982,637.88 L984,636.92 L986,635.97 L988,635.03 L990,634.09 L992,633.17 L994,632.24 L996,631.32 L998,630.4 L1000,629.47 L1002,628.55 L1004,627.63 L1006,626.7 L1008,625.78 L1010,624.86 L1012,623.93 L1014,623 L1016,622.06 L1018,621.11 L1020,620.14 L1022,619.16 L1024,618.15 L1026,617.12 L1028,616.08 L1030,615.02 L1032,613.95 L1034,612.87 L1036,611.79 L1038,610.71 L1040,609.63 L1042,608.54 L1044,607.46 L1046,606.38 L1048,605.29 L1050,604.21 L1052,603.13 L1054,602.04 L1056,600.96 L1058,599.88 L1060,598.8 L1062,597.73 L1064,596.67 L1066,595.61 L1068,594.56 L1070,593.52 L1072,592.49 L1074,591.46 L1076,590.44 L1078,589.42 L1080,588.41 L1082,587.39 L1084,586.38 L1086,585.36 L1088,584.35 L1090,583.33 L1092,582.32 L1094,581.3 L1096,580.29 L1098,579.28 L1100,578.27 L1102,577.26 L1104,576.26 L1106,575.27 L1108,574.29 L1110,573.32 L1112,572.36 L1114,571.41 L1116,570.46 L1118,569.52 L1120,568.58 L1122,567.64 L1124,566.7 L1126,565.76 L1128,564.83 L1130,563.89 L1132,562.96 L1134,562.04 L1136,561.12 L1138,560.22 L1140,559.33 L1142,558.46 L1144,557.6 L1146,556.75 L1148,555.91 L1150,555.07 L1152,554.24 L1154,553.42 L1156,552.59 L1158,551.76 L1160,550.94 L1162,550.11 L1164,549.29 L1166,548.47 L1168,547.66 L1170,546.86 L1172,546.07 L1174,545.3 L1176,544.53 L1178,543.78 L1180,543.04 L1182,542.31 L1184,541.58 L1186,540.86 L1188,540.14 L1190,539.42 L1192,538.7 L1194,537.98 L1196,537.26 L1198,536.55 L1200,535.85 L1202,535.16 L1204,534.49 L1206,533.84 L1208,533.22 L1210,532.62 L1212,532.04 L1214,531.48 L1216,530.93 L1218,530.38 L1220,529.84 L1222,529.31 L1224,528.77 L1226,528.24 L1228,527.7 L1230,527.17 L1232,526.63 L1234,526.1 L1236,525.56 L1238,525.03 L1240,524.5 L1242,523.97 L1244,523.44 L1246,522.92 L1248,522.41 L1250,521.89 L1252,521.39 L1254,520.88 L1256,520.38 L1258,519.88 L1260,519.38 L1262,518.88 L1264,518.38 L1266,517.88 L1268,517.37 L1270,516.87 L1272,516.37 L1274,515.87 L1276,515.37 L1278,514.87 L1280,514.37 L1282,513.87 L1284,513.36 L1286,512.86 L1288,512.35 L1290,511.84 L1292,511.32 L1294,510.81 L1296,510.29 L1298,509.78 L1300,509.26 L1302,508.74 L1304,508.22 L1306,507.71 L1308,507.19 L1310,506.67 L1312,506.15 L1314,505.64 L1316,505.13 L1318,504.63 L1320,504.15 L1322,503.69 L1324,503.26 L1326,502.87 L1328,502.52 L1330,502.21 L1332,501.94 L1334,501.7 L1336,501.47 L1338,501.26 L1340,501.05 L1342,500.85 L1344,500.65 L1346,500.45 L1348,500.24 L1350,500.04 L1352,499.84 L1354,499.64 L1356,499.45 L1358,499.25 L1360,499.06 L1362,498.87 L1364,498.69 L1366,498.52 L1368,498.35 L1370,498.2 L1372,498.05 L1374,497.91 L1376,497.78 L1378,497.64 L1380,497.51 L1382,497.38 L1384,497.25 L1386,497.12 L1388,496.99 L1390,496.86 L1392,496.73 L1394,496.6 L1396,496.47 L1398,496.35 L1400,496.24 L1402,496.13 L1404,496.04 L1406,495.96 L1408,495.9 L1410,495.86 L1412,495.83 L1414,495.82 L1416,495.81 L1418,495.8 L1420,495.8 L1422,495.8 L1424,495.8 L1426,495.8 L1428,495.8 L1430,495.8 L1432,495.8 L1434,495.8 L1436,495.8 L1438,495.8 L1440,495.81 L1442,495.82 L1444,495.83 L1446,495.84 L1448,495.86 L1450,495.89 L1452,495.92 L1454,495.95 L1456,495.98 L1458,496.02 L1460,496.05 L1462,496.09 L1464,496.12 L1466,496.16 L1468,496.19 L1470,496.23 L1472,496.26 L1474,496.3 L1476,496.33 L1478,496.36 L1479.5,496.39" class="s" stroke="#aaaaaa" />
<path d="M103.3,519.3 L105.3,519.71 L107.3,520.11 L109.3,520.52 L111.3,520.93 L113.3,521.34 L115.3,521.77 L117.3,522.21 L119.3,522.69 L121.3,523.21 L123.3,523.77 L125.3,524.36 L127.3,524.97 L129.3,525.58 L131.3,526.2 L133.3,526.82 L135.3,527.44 L137.3,528.06 L139.3,528.68 L141.3,529.31 L143.3,529.93 L145.3,530.57 L147.3,531.24 L149.3,531.95 L151.3,532.72 L153.3,533.53 L155.3,534.37 L157.3,535.24 L159.3,536.12 L161.3,537.01 L163.3,537.9 L165.3,538.78 L167.3,539.67 L169.3,540.56 L171.3,541.44 L173.3,542.32 L175.3,543.18 L177.3,544.01 L179.3,544.79 L181.3,545.52 L183.3,546.19 L185.3,546.81 L187.3,547.41 L189.3,547.99 L191.3,548.58 L193.3,549.16 L195.3,549.74 L197.3,550.32 L199.3,550.9 L201.3,551.47 L203.3,552.05 L205.3,552.61 L207.3,553.14 L209.3,553.64 L211.3,554.1 L213.3,554.5 L215.3,554.88 L217.3,555.23 L219.3,555.58 L221.3,555.91 L223.3,556.24 L225.3,556.53 L227.3,556.76 L229.3,556.89 L231.3,556.9 L233.3,556.8 L235.3,556.62 L237.3,556.38 L239.3,556.12 L241.3,555.85 L243.3,555.58 L245.3,555.3 L247.3,555.02 L249.3,554.73 L251.3,554.42 L253.3,554.08 L255.3,553.69 L257.3,553.25 L259.3,552.76 L261.3,552.25 L263.3,551.72 L265.3,551.18 L267.3,550.61 L269.3,550.01 L271.3,549.35 L273.3,548.62 L275.3,547.82 L277.3,546.97 L279.3,546.08 L281.3,545.19 L283.3,544.28 L285.3,543.37 L287.3,542.45 L289.3,541.53 L291.3,540.6 L293.3,539.68 L295.3,538.75 L297.3,537.81 L299.3,536.88 L301.3,535.94 L303.3,534.99 L305.3,534.02 L307.3,533.05 L309.3,532.06 L311.3,531.07 L313.3,530.09 L315.3,529.1 L317.3,528.13 L319.3,527.16 L321.3,526.21 L323.3,525.27 L325.3,524.33 L327.3,523.4 L329.3,522.47 L331.3,521.55 L333.3,520.64 L335.3,519.76 L337.3,518.92 L339.3,518.12 L341.3,517.36 L343.3,516.63 L345.3,515.91 L347.3,515.2 L349.3,514.5 L351.3,513.79 L353.3,513.08 L355.3,512.38 L357.3,511.67 L359.3,510.97 L361.3,510.26 L363.3,509.56 L365.3,508.86 L367.3,508.16 L369.3,507.48 L371.3,506.82 L373.3,506.19 L375.3,505.61 L377.3,505.06 L379.3,504.54 L381.3,504.04 L383.3,503.53 L385.3,503.04 L387.3,502.54 L389.3,502.04 L391.3,501.54 L393.3,501.04 L395.3,500.54 L397.3,500.05 L399.3,499.56 L401.3,499.07 L403.3,498.59 L405.3,498.11 L407.3,497.64 L409.3,497.18 L411.3,496.72 L413.3,496.26 L415.3,495.8 L417.3,495.33 L419.3,494.87 L421.3,494.41 L423.3,493.95 L425.3,493.49 L427.3,493.03 L429.3,492.57 L431.3,492.11 L433.3,491.67 L435.3,491.24 L437.3,490.84 L439.3,490.47 L441.3,490.13 L443.3,489.81 L445.3,489.49 L447.3,489.18 L449.3,488.88 L451.3,488.57 L453.3,488.26 L455.3,487.96 L457.3,487.65 L459.3,487.35 L461.3,487.04 L463.3,486.73 L465.3,486.43 L467.3,486.14 L469.3,485.85 L471.3,485.59 L473.3,485.36 L475.3,485.15 L477.3,484.95 L479.3,484.77 L481.3,484.6 L483.3,484.42 L485.3,484.25 L487.3,484.08 L489.3,483.9 L491.3,483.73 L493.3,483.56 L495.3,483.39 L497.3,483.21 L499.3,483.04 L501.3,482.87 L503.3,482.69 L505.3,482.52 L507.3,482.35 L509.3,482.18 L511.3,482 L513.3,481.83 L515.3,481.66 L517.3,481.48 L519.3,481.31 L521.3,481.14 L523.3,480.96 L525.3,480.79 L527.3,480.62 L529.3,480.45 L531.3,480.27 L533.3,480.1 L535.3,479.93 L537.3,479.76 L539.3,479.6 L541.3,479.45 L543.3,479.31 L545.3,479.18 L547.3,479.06 L549.3,478.94 L551.3,478.83 L553.3,478.71 L555.3,478.6 L557.3,478.48 L559.3,478.37 L561.3,478.25 L563.3,478.13 L565.3,478.02 L567.3,477.9 L569.3,477.79 L571.3,477.68 L573.3,477.57 L575.3,477.46 L577.3,477.37 L579.3,477.28 L581.3,477.19 L583.3,477.11 L585.3,477.03 L587.3,476.95 L589.3,476.86 L591.3,476.78 L593.3,476.7 L595.3,476.62 L597.3,476.54 L599.3,476.46 L601.3,476.38 L603.3,476.3 L605.3,476.22 L607.3,476.15 L609.3,476.08 L611.3,476.02 L613.3,475.96 L615.3,475.91 L617.3,475.87 L619.3,475.83 L621.3,475.79 L623.3,475.74 L625.3,475.7 L627.3,475.66 L629.3,475.62 L631.3,475.58 L633.3,475.54 L635.3,475.5 L637.3,475.46 L639.3,475.42 L641.3,475.38 L643.3,475.34 L645.3,475.3 L647.3,475.27 L649.3,475.24 L651.3,475.21 L653.3,475.19 L655.3,475.18 L657.3,475.17 L659.3,475.16 L661.3,475.15 L663.3,475.15 L665.3,475.14 L667.3,475.13 L669.3,475.12 L671.3,475.11 L673.3,475.11 L675.3,475.1 L677.3,475.09 L679.3,475.08 L681.3,475.07 L683.3,475.07 L685.3,475.06 L687.3,475.05 L689.3,475.04 L691.3,475.03 L693.3,475.03 L695.3,475.02 L697.3,475.02 L699.3,475.01 L701.3,475.02 L703.3,475.02 L705.3,475.03 L707.3,475.04 L709.3,475.05 L711.3,475.06 L713.3,475.07 L715.3,475.08 L717.3,475.09 L719.3,475.1 L721.3,475.11 L723.3,475.12 L725.3,475.13 L727.3,475.14 L729.3,475.15 L731.3,475.16 L733.3,475.17 L735.3,475.18 L737.3,475.19 L739.3,475.2 L741.3,475.21 L743.3,475.22 L745.3,475.23 L747.3,475.24 L749.3,475.25 L751.3,475.26 L753.3,475.27 L755.3,475.28 L757.3,475.29 L759.3,475.3 L761.3,475.31 L763.3,475.32 L765.3,475.33 L767.3,475.34 L769.3,475.35 L771.3,475.36 L773.3,475.37 L775.3,475.38 L777.3,475.39 L779.3,475.4 L781.3,475.41 L783.3,475.42 L785.3,475.43 L787.3,475.44 L789.3,475.45 L791.3,475.46 L793.3,475.47 L795.3,475.48 L797.3,475.49 L799.3,475.51 L801.3,475.54 L803.3,475.57 L805.3,475.6 L807.3,475.64 L809.3,475.67 L811.3,475.71 L813.3,475.75 L815.3,475.79 L817.3,475.82 L819.3,475.86 L821.3,475.9 L823.3,475.94 L825.3,475.97 L827.3,476.01 L829.3,476.05 L831.3,476.09 L833.3,476.12 L835.3,476.16 L837.3,476.2 L839.3,476.24 L841.3,476.27 L843.3,476.31 L845.3,476.35 L847.3,476.39 L849.3,476.42 L851.3,476.46 L853.3,476.5 L855.3,476.54 L857.3,476.57 L859.3,476.61 L861.3,476.65 L863.3,476.69 L865.3,476.72 L867.3,476.76 L869.3,476.8 L871.3,476.84 L873.3,476.88 L875.3,476.92 L877.3,476.96 L879.3,477 L881.3,477.06 L883.3,477.11 L885.3,477.17 L887.3,477.23 L889.3,477.3 L891.3,477.36 L893.3,477.42 L895.3,477.49 L897.3,477.55 L899.3,477.61 L901.3,477.68 L903.3,477.74 L905.3,477.81 L907.3,477.87 L909.3,477.93 L911.3,478 L913.3,478.06 L915.3,478.12 L917.3,478.19 L919.3,478.25 L921.3,478.31 L923.3,478.38 L925.3,478.44 L927.3,478.51 L929.3,478.58 L931.3,478.65 L933.3,478.73 L935.3,478.82 L937.3,478.92 L939.3,479.03 L941.3,479.14 L943.3,479.25 L945.3,479.36 L947.3,479.47 L949.3,479.58 L951.3,479.69 L953.3,479.81 L955.3,479.92 L957.3,480.03 L959.3,480.14 L961.3,480.25 L963.3,480.37 L965.3,480.48 L967.3,480.61 L969.3,480.76 L971.3,480.91 L973.3,481.09 L975.3,481.27 L977.3,481.45 L979.3,481.64 L981.3,481.84 L983.3,482.03 L985.3,482.22 L987.3,482.41 L989.3,482.6 L991.3,482.79 L993.3,482.98 L995.3,483.17 L997.3,483.36 L999.3,483.55 L1001.3,483.74 L1003.3,483.94 L1005.3,484.13 L1007.3,484.32 L1009.3,484.52 L1011.3,484.72 L1013.3,484.91 L1015.3,485.11 L1017.3,485.3 L1019.3,485.5 L1021.3,485.7 L1023.3,485.89 L1025.3,486.09 L1027.3,486.28 L1029.3,486.48 L1031.3,486.68 L1033.3,486.88 L1035.3,487.09 L1037.3,487.32 L1039.3,487.56 L1041.3,487.83 L1043.3,488.12 L1045.3,488.41 L1047.3,488.71 L1049.3,489.02 L1051.3,489.32 L1053.3,489.63 L1055.3,489.94 L1057.3,490.24 L1059.3,490.55 L1061.3,490.85 L1063.3,491.16 L1065.3,491.46 L1067.3,491.77 L1069.3,492.09 L1071.3,492.42 L1073.3,492.77 L1075.3,493.15 L1077.3,493.54 L1079.3,493.95 L1081.3,494.37 L1083.3,494.79 L1085.3,495.21 L1087.3,495.63 L1089.3,496.05 L1091.3,496.48 L1093.3,496.9 L1095.3,497.32 L1097.3,497.74 L1099.3,498.17 L1101.3,498.59 L1103.3,499.03 L1105.3,499.47 L1107.3,499.94 L1109.3,500.44 L1111.3,500.96 L1113.3,501.5 L1115.3,502.06 L1117.3,502.62 L1119.3,503.18 L1121.3,503.74 L1123.3,504.31 L1125.3,504.87 L1127.3,505.43 L1129.3,505.99 L1131.3,506.56 L1133.3,507.12 L1135.3,507.69 L1137.3,508.27 L1139.3,508.87 L1141.3,509.49 L1143.3,510.15 L1145.3,510.84 L1147.3,511.55 L1149.3,512.27 L1151.3,512.99 L1153.3,513.71 L1155.3,514.44 L1157.3,515.16 L1159.3,515.89 L1161.3,516.61 L1163.3,517.34 L1165.3,518.06 L1167.3,518.79 L1169.3,519.52 L1171.3,520.25 L1173.3,521.01 L1175.3,521.81 L1177.3,522.66 L1179.3,523.57 L1181.3,524.53 L1183.3,525.52 L1185.3,526.52 L1187.3,527.54 L1189.3,528.55 L1191.3,529.57 L1193.3,530.59 L1195.3,531.6 L1197.3,532.62 L1199.3,533.64 L1201.3,534.66 L1203.3,535.68 L1205.3,536.7 L1207.3,537.73 L1209.3,538.76 L1211.3,539.79 L1213.3,540.83 L1215.3,541.87 L1217.3,542.91 L1219.3,543.95 L1221.3,544.98 L1223.3,546.02 L1225.3,547.06 L1227.3,548.1 L1229.3,549.14 L1231.3,550.18 L1233.3,551.21 L1235.3,552.23 L1237.3,553.22 L1239.3,554.17 L1241.3,555.07 L1243.3,555.93 L1245.3,556.75 L1247.3,557.55 L1249.3,558.33 L1251.3,559.12 L1253.3,559.9 L1255.3,560.68 L1257.3,561.46 L1259.3,562.24 L1261.3,563.02 L1263.3,563.8 L1265.3,564.55 L1267.3,565.28 L1269.3,565.94 L1271.3,566.53 L1273.3,567.04 L1275.3,567.48 L1277.3,567.88 L1279.3,568.25 L1281.3,568.62 L1283.3,568.98 L1285.3,569.34 L1287.3,569.7 L1289.3,570.06 L1291.3,570.42 L1293.3,570.78 L1295.3,571.12 L1297.3,571.44 L1299.3,571.72 L1301.3,571.96 L1303.3,572.15 L1305.3,572.31 L1307.3,572.45 L1309.3,572.58 L1311.3,572.71 L1313.3,572.83 L1315.3,572.96 L1317.3,573.08 L1319.3,573.21 L1321.3,573.33 L1323.3,573.46 L1325.3,573.58 L1327.3,573.71 L1329.3,573.83 L1331.3,573.96 L1333.3,574.08 L1335.3,574.2 L1337.3,574.3 L1339.3,574.4 L1341.3,574.47 L1343.3,574.53 L1345.3,574.58 L1347.3,574.62 L1349.3,574.65 L1351.3,574.69 L1353.3,574.72 L1355.3,574.75 L1357.3,574.79 L1359.3,574.82 L1361.3,574.86 L1363.3,574.89 L1365.3,574.92 L1367.3,574.96 L1369.3,574.99 L1371.3,575.02 L1373.3,575.06 L1375.3,575.09 L1377.3,575.12 L1379.3,575.16 L1381.3,575.19 L1383.3,575.22 L1385.3,575.25 L1387.3,575.29 L1389.3,575.32 L1391.3,575.35 L1393.3,575.39 L1395.3,575.42 L1397.3,575.44 L1399.3,575.47 L1401.3,575.48 L1403.3,575.49 L1405.3,575.49 L1407.3,575.49 L1409.3,575.49 L1411.3,575.49 L1413.3,575.48 L1415.3,575.48 L1417.3,575.48 L1419.3,575.48 L1421.3,575.47 L1423.3,575.47 L1425.3,575.47 L1427.3,575.47 L1429.3,575.46 L1431.3,575.46 L1433.3,575.46 L1435.3,575.46 L1437.3,575.45 L1439.3,575.45 L1441.3,575.45 L1443.3,575.45 L1445.3,575.44 L1447.3,575.44 L1449.3,575.44 L1451.3,575.44 L1453.3,575.43 L1455.3,575.43 L1457.3,575.43 L1459.3,575.43 L1461.3,575.42 L1463.3,575.42 L1465.3,575.42 L1467.3,575.42 L1469.3,575.41 L1471.3,575.41 L1473.3,575.41 L1475.3,575.41 L1477.3,575.4 L1479.3,575.4 L1479.5,575.4" class="s" stroke="#aaaaaa" stroke-dasharray="17.5 17.3"/>
<path d="M103.3,569 L105.3,567.96 L107.3,566.91 L109.3,565.87 L111.3,564.82 L113.3,563.78 L115.3,562.74 L117.3,561.69 L119.3,560.65 L121.3,559.6 L123.3,558.56 L125.3,557.5 L127.3,556.42 L129.3,555.31 L131.3,554.15 L133.3,552.95 L135.3,551.71 L137.3,550.45 L139.3,549.17 L141.3,547.89 L143.3,546.6 L145.3,545.31 L147.3,544.03 L149.3,542.74 L151.3,541.46 L153.3,540.18 L155.3,538.91 L157.3,537.65 L159.3,536.4 L161.3,535.18 L163.3,533.97 L165.3,532.77 L167.3,531.57 L169.3,530.38 L171.3,529.19 L173.3,527.99 L175.3,526.8 L177.3,525.61 L179.3,524.42 L181.3,523.23 L183.3,522.05 L185.3,520.89 L187.3,519.75 L189.3,518.63 L191.3,517.53 L193.3,516.44 L195.3,515.35 L197.3,514.27 L199.3,513.19 L201.3,512.11 L203.3,511.03 L205.3,509.95 L207.3,508.86 L209.3,507.78 L211.3,506.71 L213.3,505.64 L215.3,504.58 L217.3,503.57 L219.3,502.61 L221.3,501.72 L223.3,500.89 L225.3,500.11 L227.3,499.37 L229.3,498.64 L231.3,497.91 L233.3,497.18 L235.3,496.46 L237.3,495.74 L239.3,495.01 L241.3,494.29 L243.3,493.56 L245.3,492.84 L247.3,492.12 L249.3,491.4 L251.3,490.69 L253.3,489.99 L255.3,489.31 L257.3,488.66 L259.3,488.02 L261.3,487.38 L263.3,486.76 L265.3,486.14 L267.3,485.52 L269.3,484.89 L271.3,484.27 L273.3,483.65 L275.3,483.04 L277.3,482.43 L279.3,481.84 L281.3,481.28 L283.3,480.76 L285.3,480.29 L287.3,479.86 L289.3,479.45 L291.3,479.05 L293.3,478.66 L295.3,478.27 L297.3,477.88 L299.3,477.5 L301.3,477.11 L303.3,476.72 L305.3,476.33 L307.3,475.94 L309.3,475.55 L311.3,475.17 L313.3,474.78 L315.3,474.39 L317.3,474.01 L319.3,473.64 L321.3,473.3 L323.3,472.99 L325.3,472.73 L327.3,472.52 L329.3,472.34 L331.3,472.19 L333.3,472.04 L335.3,471.89 L337.3,471.75 L339.3,471.61 L341.3,471.46 L343.3,471.32 L345.3,471.18 L347.3,471.04 L349.3,470.91 L351.3,470.78 L353.3,470.66 L355.3,470.55 L357.3,470.45 L359.3,470.35 L361.3,470.25 L363.3,470.15 L365.3,470.05 L367.3,469.96 L369.3,469.86 L371.3,469.76 L373.3,469.67 L375.3,469.58 L377.3,469.51 L379.3,469.44 L381.3,469.39 L383.3,469.36 L385.3,469.33 L387.3,469.3 L389.3,469.28 L391.3,469.25 L393.3,469.23 L395.3,469.21 L397.3,469.19 L399.3,469.16 L401.3,469.14 L403.3,469.12 L405.3,469.09 L407.3,469.07 L409.3,469.06 L411.3,469.05 L413.3,469.05 L415.3,469.07 L417.3,469.09 L419.3,469.13 L421.3,469.17 L423.3,469.21 L425.3,469.26 L427.3,469.3 L429.3,469.34 L431.3,469.38 L433.3,469.43 L435.3,469.47 L437.3,469.51 L439.3,469.56 L441.3,469.6 L443.3,469.64 L445.3,469.68 L447.3,469.73 L449.3,469.77 L451.3,469.81 L453.3,469.86 L455.3,469.9 L457.3,469.95 L459.3,470 L461.3,470.05 L463.3,470.1 L465.3,470.16 L467.3,470.22 L469.3,470.28 L471.3,470.34 L473.3,470.4 L475.3,470.46 L477.3,470.52 L479.3,470.58 L481.3,470.64 L483.3,470.7 L485.3,470.76 L487.3,470.82 L489.3,470.88 L491.3,470.94 L493.3,471 L495.3,471.06 L497.3,471.12 L499.3,471.18 L501.3,471.24 L503.3,471.3 L505.3,471.36 L507.3,471.42 L509.3,471.48 L511.3,471.54 L513.3,471.6 L515.3,471.66 L517.3,471.72 L519.3,471.78 L521.3,471.84 L523.3,471.89 L525.3,471.95 L527.3,472 L529.3,472.05 L531.3,472.09 L533.3,472.14 L535.3,472.18 L537.3,472.22 L539.3,472.26 L541.3,472.31 L543.3,472.35 L545.3,472.39 L547.3,472.43 L549.3,472.47 L551.3,472.52 L553.3,472.56 L555.3,472.6 L557.3,472.64 L559.3,472.68 L561.3,472.73 L563.3,472.77 L565.3,472.81 L567.3,472.85 L569.3,472.89 L571.3,472.94 L573.3,472.98 L575.3,473.02 L577.3,473.06 L579.3,473.1 L581.3,473.15 L583.3,473.19 L585.3,473.23 L587.3,473.27 L589.3,473.32 L591.3,473.36 L593.3,473.4 L595.3,473.45 L597.3,473.5 L599.3,473.55 L601.3,473.6 L603.3,473.65 L605.3,473.7 L607.3,473.75 L609.3,473.8 L611.3,473.85 L613.3,473.9 L615.3,473.95 L617.3,474 L619.3,474.05 L621.3,474.1 L623.3,474.15 L625.3,474.2 L627.3,474.25 L629.3,474.3 L631.3,474.35 L633.3,474.41 L635.3,474.46 L637.3,474.52 L639.3,474.58 L641.3,474.64 L643.3,474.7 L645.3,474.76 L647.3,474.82 L649.3,474.88 L651.3,474.94 L653.3,475 L655.3,475.06 L657.3,475.12 L659.3,475.18 L661.3,475.24 L663.3,475.29 L665.3,475.34 L667.3,475.39 L669.3,475.43 L671.3,475.47 L673.3,475.51 L675.3,475.54 L677.3,475.57 L679.3,475.6 L681.3,475.63 L683.3,475.67 L685.3,475.7 L687.3,475.73 L689.3,475.76 L691.3,475.8 L693.3,475.83 L695.3,475.86 L697.3,475.89 L699.3,475.92 L701.3,475.95 L703.3,475.98 L705.3,476 L707.3,476.02 L709.3,476.04 L711.3,476.06 L713.3,476.08 L715.3,476.09 L717.3,476.11 L719.3,476.13 L721.3,476.14 L723.3,476.16 L725.3,476.18 L727.3,476.19 L729.3,476.21 L731.3,476.23 L733.3,476.24 L735.3,476.25 L737.3,476.25 L739.3,476.25 L741.3,476.22 L743.3,476.18 L745.3,476.13 L747.3,476.08 L749.3,476.02 L751.3,475.96 L753.3,475.9 L755.3,475.84 L757.3,475.78 L759.3,475.72 L761.3,475.66 L763.3,475.6 L765.3,475.54 L767.3,475.48 L769.3,475.42 L771.3,475.36 L773.3,475.3 L775.3,475.24 L777.3,475.18 L779.3,475.12 L781.3,475.06 L783.3,475 L785.3,474.94 L787.3,474.88 L789.3,474.82 L791.3,474.76 L793.3,474.7 L795.3,474.64 L797.3,474.58 L799.3,474.51 L801.3,474.45 L803.3,474.38 L805.3,474.31 L807.3,474.24 L809.3,474.16 L811.3,474.09 L813.3,474.02 L815.3,473.95 L817.3,473.87 L819.3,473.8 L821.3,473.73 L823.3,473.66 L825.3,473.58 L827.3,473.51 L829.3,473.44 L831.3,473.37 L833.3,473.29 L835.3,473.22 L837.3,473.15 L839.3,473.08 L841.3,473 L843.3,472.93 L845.3,472.86 L847.3,472.79 L849.3,472.71 L851.3,472.64 L853.3,472.57 L855.3,472.5 L857.3,472.42 L859.3,472.35 L861.3,472.28 L863.3,472.21 L865.3,472.13 L867.3,472.06 L869.3,471.99 L871.3,471.92 L873.3,471.84 L875.3,471.78 L877.3,471.71 L879.3,471.65 L881.3,471.6 L883.3,471.56 L885.3,471.52 L887.3,471.49 L889.3,471.46 L891.3,471.43 L893.3,471.4 L895.3,471.37 L897.3,471.34 L899.3,471.31 L901.3,471.28 L903.3,471.25 L905.3,471.22 L907.3,471.19 L909.3,471.16 L911.3,471.13 L913.3,471.1 L915.3,471.07 L917.3,471.04 L919.3,471.01 L921.3,470.98 L923.3,470.95 L925.3,470.92 L927.3,470.89 L929.3,470.86 L931.3,470.83 L933.3,470.8 L935.3,470.77 L937.3,470.74 L939.3,470.71 L941.3,470.68 L943.3,470.65 L945.3,470.62 L947.3,470.59 L949.3,470.56 L951.3,470.53 L953.3,470.5 L955.3,470.47 L957.3,470.43 L959.3,470.4 L961.3,470.35 L963.3,470.31 L965.3,470.26 L967.3,470.21 L969.3,470.16 L971.3,470.1 L973.3,470.05 L975.3,470 L977.3,469.95 L979.3,469.89 L981.3,469.84 L983.3,469.79 L985.3,469.74 L987.3,469.68 L989.3,469.63 L991.3,469.58 L993.3,469.53 L995.3,469.47 L997.3,469.42 L999.3,469.37 L1001.3,469.32 L1003.3,469.26 L1005.3,469.21 L1007.3,469.16 L1009.3,469.11 L1011.3,469.05 L1013.3,469 L1015.3,468.95 L1017.3,468.9 L1019.3,468.84 L1021.3,468.79 L1023.3,468.74 L1025.3,468.69 L1027.3,468.63 L1029.3,468.58 L1031.3,468.53 L1033.3,468.48 L1035.3,468.43 L1037.3,468.38 L1039.3,468.34 L1041.3,468.31 L1043.3,468.28 L1045.3,468.26 L1047.3,468.25 L1049.3,468.23 L1051.3,468.22 L1053.3,468.2 L1055.3,468.19 L1057.3,468.17 L1059.3,468.16 L1061.3,468.14 L1063.3,468.13 L1065.3,468.11 L1067.3,468.1 L1069.3,468.08 L1071.3,468.07 L1073.3,468.05 L1075.3,468.04 L1077.3,468.02 L1079.3,468.01 L1081.3,467.99 L1083.3,467.98 L1085.3,467.96 L1087.3,467.95 L1089.3,467.93 L1091.3,467.92 L1093.3,467.9 L1095.3,467.89 L1097.3,467.87 L1099.3,467.86 L1101.3,467.85 L1103.3,467.84 L1105.3,467.85 L1107.3,467.86 L1109.3,467.89 L1111.3,467.93 L1113.3,467.98 L1115.3,468.03 L1117.3,468.09 L1119.3,468.14 L1121.3,468.19 L1123.3,468.25 L1125.3,468.3 L1127.3,468.36 L1129.3,468.41 L1131.3,468.47 L1133.3,468.52 L1135.3,468.58 L1137.3,468.65 L1139.3,468.73 L1141.3,468.83 L1143.3,468.95 L1145.3,469.07 L1147.3,469.21 L1149.3,469.34 L1151.3,469.48 L1153.3,469.62 L1155.3,469.75 L1157.3,469.89 L1159.3,470.03 L1161.3,470.17 L1163.3,470.3 L1165.3,470.44 L1167.3,470.59 L1169.3,470.74 L1171.3,470.9 L1173.3,471.09 L1175.3,471.3 L1177.3,471.54 L1179.3,471.79 L1181.3,472.05 L1183.3,472.31 L1185.3,472.57 L1187.3,472.84 L1189.3,473.1 L1191.3,473.37 L1193.3,473.63 L1195.3,473.89 L1197.3,474.16 L1199.3,474.43 L1201.3,474.7 L1203.3,474.99 L1205.3,475.31 L1207.3,475.66 L1209.3,476.04 L1211.3,476.46 L1213.3,476.89 L1215.3,477.33 L1217.3,477.78 L1219.3,478.23 L1221.3,478.68 L1223.3,479.13 L1225.3,479.58 L1227.3,480.03 L1229.3,480.49 L1231.3,480.96 L1233.3,481.45 L1235.3,481.96 L1237.3,482.49 L1239.3,483.02 L1241.3,483.57 L1243.3,484.12 L1245.3,484.67 L1247.3,485.21 L1249.3,485.76 L1251.3,486.31 L1253.3,486.87 L1255.3,487.43 L1257.3,488.01 L1259.3,488.62 L1261.3,489.26 L1263.3,489.93 L1265.3,490.62 L1267.3,491.33 L1269.3,492.04 L1271.3,492.76 L1273.3,493.48 L1275.3,494.2 L1277.3,494.92 L1279.3,495.63 L1281.3,496.35 L1283.3,497.07 L1285.3,497.79 L1287.3,498.5 L1289.3,499.21 L1291.3,499.91 L1293.3,500.59 L1295.3,501.26 L1297.3,501.9 L1299.3,502.54 L1301.3,503.16 L1303.3,503.79 L1305.3,504.41 L1307.3,505.04 L1309.3,505.66 L1311.3,506.28 L1313.3,506.9 L1315.3,507.49 L1317.3,508.05 L1319.3,508.55 L1321.3,508.99 L1323.3,509.36 L1325.3,509.67 L1327.3,509.96 L1329.3,510.24 L1331.3,510.51 L1333.3,510.77 L1335.3,511.04 L1337.3,511.31 L1339.3,511.57 L1341.3,511.84 L1343.3,512.11 L1345.3,512.37 L1347.3,512.64 L1349.3,512.91 L1351.3,513.17 L1353.3,513.44 L1355.3,513.71 L1357.3,513.97 L1359.3,514.24 L1361.3,514.51 L1363.3,514.77 L1365.3,515.04 L1367.3,515.31 L1369.3,515.57 L1371.3,515.84 L1373.3,516.1 L1375.3,516.36 L1377.3,516.6 L1379.3,516.82 L1381.3,517.02 L1383.3,517.19 L1385.3,517.34 L1387.3,517.48 L1389.3,517.62 L1391.3,517.75 L1393.3,517.89 L1395.3,518.02 L1397.3,518.15 L1399.3,518.29 L1401.3,518.42 L1403.3,518.55 L1405.3,518.69 L1407.3,518.82 L1409.3,518.95 L1411.3,519.09 L1413.3,519.22 L1415.3,519.35 L1417.3,519.49 L1419.3,519.62 L1421.3,519.75 L1423.3,519.89 L1425.3,520.02 L1427.3,520.15 L1429.3,520.29 L1431.3,520.42 L1433.3,520.56 L1435.3,520.7 L1437.3,520.85 L1439.3,521.01 L1441.3,521.2 L1443.3,521.4 L1445.3,521.61 L1447.3,521.83 L1449.3,522.06 L1451.3,522.29 L1453.3,522.52 L1455.3,522.74 L1457.3,522.97 L1459.3,523.2 L1461.3,523.43 L1463.3,523.65 L1465.3,523.88 L1467.3,524.11 L1469.3,524.34 L1471.3,524.56 L1473.3,524.78 L1475.3,524.99 L1477.3,525.17 L1479.3,525.32 L1479.5,525.42" class="s" stroke="#aaaaaa" stroke-dasharray="14.5 6.7 0 7.3 0 6" stroke-linecap="round"/>
<path d="M103.3,484 L105.3,483.84 L107.3,483.68 L109.3,483.53 L111.3,483.37 L113.3,483.21 L115.3,483.05 L117.3,482.9 L119.3,482.74 L121.3,482.58 L123.3,482.42 L125.3,482.27 L127.3,482.11 L129.3,481.95 L131.3,481.8 L133.3,481.65 L135.3,481.51 L137.3,481.38 L139.3,481.26 L141.3,481.14 L143.3,481.03 L145.3,480.92 L147.3,480.8 L149.3,480.69 L151.3,480.57 L153.3,480.46 L155.3,480.35 L157.3,480.23 L159.3,480.12 L161.3,480.01 L163.3,479.9 L165.3,479.79 L167.3,479.68 L169.3,479.57 L171.3,479.47 L173.3,479.36 L175.3,479.26 L177.3,479.16 L179.3,479.06 L181.3,478.95 L183.3,478.85 L185.3,478.75 L187.3,478.65 L189.3,478.55 L191.3,478.44 L193.3,478.34 L195.3,478.25 L197.3,478.16 L199.3,478.07 L201.3,478 L203.3,477.94 L205.3,477.89 L207.3,477.84 L209.3,477.8 L211.3,477.75 L213.3,477.71 L215.3,477.66 L217.3,477.62 L219.3,477.58 L221.3,477.53 L223.3,477.49 L225.3,477.44 L227.3,477.4 L229.3,477.36 L231.3,477.31 L233.3,477.27 L235.3,477.23 L237.3,477.2 L239.3,477.18 L241.3,477.17 L243.3,477.18 L245.3,477.21 L247.3,477.25 L249.3,477.29 L251.3,477.34 L253.3,477.38 L255.3,477.43 L257.3,477.48 L259.3,477.52 L261.3,477.57 L263.3,477.61 L265.3,477.66 L267.3,477.71 L269.3,477.75 L271.3,477.8 L273.3,477.84 L275.3,477.89 L277.3,477.93 L279.3,477.97 L281.3,478.01 L283.3,478.05 L285.3,478.08 L287.3,478.12 L289.3,478.15 L291.3,478.18 L293.3,478.21 L295.3,478.24 L297.3,478.28 L299.3,478.31 L301.3,478.34 L303.3,478.37 L305.3,478.4 L307.3,478.43 L309.3,478.47 L311.3,478.5 L313.3,478.53 L315.3,478.56 L317.3,478.6 L319.3,478.64 L321.3,478.69 L323.3,478.76 L325.3,478.86 L327.3,478.98 L329.3,479.11 L331.3,479.25 L333.3,479.4 L335.3,479.55 L337.3,479.7 L339.3,479.85 L341.3,480 L343.3,480.15 L345.3,480.3 L347.3,480.45 L349.3,480.6 L351.3,480.75 L353.3,480.9 L355.3,481.07 L357.3,481.25 L359.3,481.45 L361.3,481.69 L363.3,481.96 L365.3,482.26 L367.3,482.56 L369.3,482.88 L371.3,483.19 L373.3,483.51 L375.3,483.83 L377.3,484.15 L379.3,484.46 L381.3,484.78 L383.3,485.1 L385.3,485.42 L387.3,485.74 L389.3,486.08 L391.3,486.44 L393.3,486.84 L395.3,487.28 L397.3,487.75 L399.3,488.25 L401.3,488.76 L403.3,489.28 L405.3,489.8 L407.3,490.32 L409.3,490.84 L411.3,491.36 L413.3,491.88 L415.3,492.4 L417.3,492.93 L419.3,493.45 L421.3,493.97 L423.3,494.51 L425.3,495.05 L427.3,495.61 L429.3,496.18 L431.3,496.77 L433.3,497.36 L435.3,497.96 L437.3,498.56 L439.3,499.17 L441.3,499.77 L443.3,500.37 L445.3,500.97 L447.3,501.57 L449.3,502.18 L451.3,502.78 L453.3,503.38 L455.3,503.98 L457.3,504.59 L459.3,505.19 L461.3,505.79 L463.3,506.39 L465.3,506.99 L467.3,507.59 L469.3,508.19 L471.3,508.79 L473.3,509.39 L475.3,509.98 L477.3,510.58 L479.3,511.19 L481.3,511.8 L483.3,512.42 L485.3,513.07 L487.3,513.76 L489.3,514.47 L491.3,515.22 L493.3,515.99 L495.3,516.76 L497.3,517.54 L499.3,518.33 L501.3,519.11 L503.3,519.89 L505.3,520.67 L507.3,521.45 L509.3,522.23 L511.3,523.02 L513.3,523.8 L515.3,524.59 L517.3,525.38 L519.3,526.18 L521.3,526.99 L523.3,527.79 L525.3,528.6 L527.3,529.42 L529.3,530.23 L531.3,531.04 L533.3,531.85 L535.3,532.66 L537.3,533.47 L539.3,534.28 L541.3,535.09 L543.3,535.9 L545.3,536.72 L547.3,537.53 L549.3,538.35 L551.3,539.17 L553.3,540.01 L555.3,540.87 L557.3,541.73 L559.3,542.61 L561.3,543.49 L563.3,544.37 L565.3,545.25 L567.3,546.14 L569.3,547.02 L571.3,547.9 L573.3,548.78 L575.3,549.67 L577.3,550.55 L579.3,551.44 L581.3,552.32 L583.3,553.22 L585.3,554.12 L587.3,555.04 L589.3,555.97 L591.3,556.92 L593.3,557.87 L595.3,558.83 L597.3,559.79 L599.3,560.75 L601.3,561.72 L603.3,562.68 L605.3,563.64 L607.3,564.6 L609.3,565.56 L611.3,566.52 L613.3,567.49 L615.3,568.47 L617.3,569.47 L619.3,570.51 L621.3,571.59 L623.3,572.71 L625.3,573.86 L627.3,575.03 L629.3,576.2 L631.3,577.37 L633.3,578.52 L635.3,579.62 L637.3,580.65 L639.3,581.61 L641.3,582.51 L643.3,583.35 L645.3,584.17 L647.3,584.98 L649.3,585.79 L651.3,586.59 L653.3,587.4 L655.3,588.2 L657.3,589.02 L659.3,589.85 L661.3,590.7 L663.3,591.61 L665.3,592.57 L667.3,593.59 L669.3,594.65 L671.3,595.73 L673.3,596.83 L675.3,597.93 L677.3,599.04 L679.3,600.14 L681.3,601.25 L683.3,602.38 L685.3,603.52 L687.3,604.68 L689.3,605.86 L691.3,607.05 L693.3,608.25 L695.3,609.45 L697.3,610.65 L699.3,611.86 L701.3,613.08 L703.3,614.33 L705.3,615.63 L707.3,617 L709.3,618.42 L711.3,619.91 L713.3,621.43 L715.3,622.97 L717.3,624.52 L719.3,626.07 L721.3,627.62 L723.3,629.18 L725.3,630.75 L727.3,632.34 L729.3,633.96 L731.3,635.6 L733.3,637.26 L735.3,638.93 L737.3,640.61 L739.3,642.3 L741.3,643.98 L743.3,645.67 L745.3,647.35 L747.3,649.04 L749.3,650.72 L751.3,652.41 L753.3,654.09 L755.3,655.78 L757.3,657.46 L759.3,659.14 L761.3,660.83 L763.3,662.51 L765.3,664.18 L767.3,665.84 L769.3,667.48 L771.3,669.1 L773.3,670.69 L775.3,672.28 L777.3,673.86 L779.3,675.44 L781.3,677.01 L783.3,678.58 L785.3,680.13 L787.3,681.64 L789.3,683.11 L791.3,684.52 L793.3,685.88 L795.3,687.21 L797.3,688.51 L799.3,689.81 L801.3,691.11 L803.3,692.39 L805.3,693.66 L807.3,694.89 L809.3,696.06 L811.3,697.14 L813.3,698.12 L815.3,699.04 L817.3,699.9 L819.3,700.74 L821.3,701.57 L823.3,702.39 L825.3,703.22 L827.3,704.06 L829.3,704.9 L831.3,705.74 L833.3,706.59 L835.3,707.45 L837.3,708.29 L839.3,709.12 L841.3,709.91 L843.3,710.64 L845.3,711.31 L847.3,711.9 L849.3,712.45 L851.3,712.97 L853.3,713.47 L855.3,713.94 L857.3,714.37 L859.3,714.71 L861.3,714.93 L863.3,715.03 L865.3,715.03 L867.3,714.96 L869.3,714.84 L871.3,714.7 L873.3,714.51 L875.3,714.25 L877.3,713.86 L879.3,713.33 L881.3,712.66 L883.3,711.87 L885.3,710.99 L887.3,710.03 L889.3,708.98 L891.3,707.83 L893.3,706.59 L895.3,705.27 L897.3,703.91 L899.3,702.53 L901.3,701.12 L903.3,699.68 L905.3,698.2 L907.3,696.65 L909.3,695.03 L911.3,693.35 L913.3,691.64 L915.3,689.91 L917.3,688.18 L919.3,686.45 L921.3,684.74 L923.3,683.06 L925.3,681.44 L927.3,679.9 L929.3,678.45 L931.3,677.08 L933.3,675.74 L935.3,674.43 L937.3,673.13 L939.3,671.84 L941.3,670.54 L943.3,669.24 L945.3,667.95 L947.3,666.66 L949.3,665.39 L951.3,664.14 L953.3,662.94 L955.3,661.78 L957.3,660.66 L959.3,659.56 L961.3,658.49 L963.3,657.42 L965.3,656.35 L967.3,655.28 L969.3,654.21 L971.3,653.15 L973.3,652.08 L975.3,651.03 L977.3,649.99 L979.3,648.98 L981.3,647.99 L983.3,647.04 L985.3,646.11 L987.3,645.2 L989.3,644.29 L991.3,643.38 L993.3,642.47 L995.3,641.57 L997.3,640.66 L999.3,639.75 L1001.3,638.85 L1003.3,637.94 L1005.3,637.04 L1007.3,636.15 L1009.3,635.26 L1011.3,634.4 L1013.3,633.56 L1015.3,632.75 L1017.3,631.95 L1019.3,631.16 L1021.3,630.38 L1023.3,629.6 L1025.3,628.83 L1027.3,628.05 L1029.3,627.27 L1031.3,626.49 L1033.3,625.71 L1035.3,624.93 L1037.3,624.16 L1039.3,623.38 L1041.3,622.6 L1043.3,621.82 L1045.3,621.04 L1047.3,620.27 L1049.3,619.49 L1051.3,618.71 L1053.3,617.93 L1055.3,617.15 L1057.3,616.37 L1059.3,615.59 L1061.3,614.81 L1063.3,614.03 L1065.3,613.23 L1067.3,612.43 L1069.3,611.61 L1071.3,610.78 L1073.3,609.95 L1075.3,609.11 L1077.3,608.27 L1079.3,607.43 L1081.3,606.59 L1083.3,605.75 L1085.3,604.91 L1087.3,604.07 L1089.3,603.23 L1091.3,602.39 L1093.3,601.55 L1095.3,600.71 L1097.3,599.87 L1099.3,599.02 L1101.3,598.18 L1103.3,597.33 L1105.3,596.47 L1107.3,595.61 L1109.3,594.75 L1111.3,593.89 L1113.3,593.02 L1115.3,592.16 L1117.3,591.3 L1119.3,590.43 L1121.3,589.57 L1123.3,588.71 L1125.3,587.85 L1127.3,586.98 L1129.3,586.12 L1131.3,585.26 L1133.3,584.4 L1135.3,583.54 L1137.3,582.69 L1139.3,581.86 L1141.3,581.04 L1143.3,580.24 L1145.3,579.44 L1147.3,578.66 L1149.3,577.88 L1151.3,577.1 L1153.3,576.32 L1155.3,575.54 L1157.3,574.77 L1159.3,573.99 L1161.3,573.21 L1163.3,572.43 L1165.3,571.65 L1167.3,570.88 L1169.3,570.12 L1171.3,569.37 L1173.3,568.64 L1175.3,567.95 L1177.3,567.28 L1179.3,566.62 L1181.3,565.98 L1183.3,565.34 L1185.3,564.7 L1187.3,564.06 L1189.3,563.42 L1191.3,562.78 L1193.3,562.14 L1195.3,561.5 L1197.3,560.86 L1199.3,560.23 L1201.3,559.59 L1203.3,558.95 L1205.3,558.32 L1207.3,557.68 L1209.3,557.05 L1211.3,556.41 L1213.3,555.78 L1215.3,555.14 L1217.3,554.51 L1219.3,553.87 L1221.3,553.24 L1223.3,552.6 L1225.3,551.97 L1227.3,551.33 L1229.3,550.68 L1231.3,550.01 L1233.3,549.31 L1235.3,548.57 L1237.3,547.81 L1239.3,547.03 L1241.3,546.24 L1243.3,545.44 L1245.3,544.64 L1247.3,543.84 L1249.3,543.04 L1251.3,542.24 L1253.3,541.44 L1255.3,540.64 L1257.3,539.84 L1259.3,539.04 L1261.3,538.24 L1263.3,537.44 L1265.3,536.64 L1267.3,535.84 L1269.3,535.05 L1271.3,534.27 L1273.3,533.5 L1275.3,532.75 L1277.3,532.01 L1279.3,531.28 L1281.3,530.56 L1283.3,529.84 L1285.3,529.12 L1287.3,528.41 L1289.3,527.69 L1291.3,526.97 L1293.3,526.25 L1295.3,525.53 L1297.3,524.81 L1299.3,524.1 L1301.3,523.38 L1303.3,522.67 L1305.3,521.96 L1307.3,521.26 L1309.3,520.56 L1311.3,519.88 L1313.3,519.19 L1315.3,518.51 L1317.3,517.83 L1319.3,517.15 L1321.3,516.47 L1323.3,515.79 L1325.3,515.11 L1327.3,514.43 L1329.3,513.75 L1331.3,513.07 L1333.3,512.39 L1335.3,511.71 L1337.3,511.04 L1339.3,510.36 L1341.3,509.68 L1343.3,509 L1345.3,508.32 L1347.3,507.65 L1349.3,507 L1351.3,506.38 L1353.3,505.8 L1355.3,505.26 L1357.3,504.76 L1359.3,504.29 L1361.3,503.83 L1363.3,503.38 L1365.3,502.93 L1367.3,502.47 L1369.3,502.02 L1371.3,501.57 L1373.3,501.11 L1375.3,500.65 L1377.3,500.17 L1379.3,499.66 L1381.3,499.13 L1383.3,498.57 L1385.3,497.99 L1387.3,497.4 L1389.3,496.81 L1391.3,496.21 L1393.3,495.61 L1395.3,495.02 L1397.3,494.42 L1399.3,493.83 L1401.3,493.23 L1403.3,492.63 L1405.3,492.04 L1407.3,491.45 L1409.3,490.88 L1411.3,490.32 L1413.3,489.8 L1415.3,489.3 L1417.3,488.83 L1419.3,488.38 L1421.3,487.93 L1423.3,487.49 L1425.3,487.05 L1427.3,486.61 L1429.3,486.17 L1431.3,485.73 L1433.3,485.29 L1435.3,484.85 L1437.3,484.42 L1439.3,483.98 L1441.3,483.56 L1443.3,483.17 L1445.3,482.81 L1447.3,482.5 L1449.3,482.23 L1451.3,482 L1453.3,481.79 L1455.3,481.59 L1457.3,481.39 L1459.3,481.19 L1461.3,480.99 L1463.3,480.8 L1465.3,480.6 L1467.3,480.4 L1469.3,480.21 L1471.3,480.01 L1473.3,479.82 L1475.3,479.64 L1477.3,479.48 L1479.3,479.36 L1479.5,479.27" class="s" stroke="#000" stroke-dasharray="4 4.8"/>
<path d="M103.3,512 L105.3,512.1 L107.3,512.21 L109.3,512.31 L111.3,512.41 L113.3,512.51 L115.3,512.62 L117.3,512.72 L119.3,512.82 L121.3,512.93 L123.3,513.03 L125.3,513.13 L127.3,513.23 L129.3,513.34 L131.3,513.44 L133.3,513.54 L135.3,513.64 L137.3,513.75 L139.3,513.85 L141.3,513.95 L143.3,514.06 L145.3,514.17 L147.3,514.28 L149.3,514.41 L151.3,514.56 L153.3,514.72 L155.3,514.89 L157.3,515.06 L159.3,515.24 L161.3,515.42 L163.3,515.61 L165.3,515.79 L167.3,515.97 L169.3,516.15 L171.3,516.33 L173.3,516.51 L175.3,516.7 L177.3,516.9 L179.3,517.13 L181.3,517.39 L183.3,517.7 L185.3,518.05 L187.3,518.44 L189.3,518.85 L191.3,519.27 L193.3,519.69 L195.3,520.11 L197.3,520.53 L199.3,520.96 L201.3,521.38 L203.3,521.8 L205.3,522.23 L207.3,522.65 L209.3,523.08 L211.3,523.51 L213.3,523.97 L215.3,524.46 L217.3,524.99 L219.3,525.58 L221.3,526.21 L223.3,526.87 L225.3,527.55 L227.3,528.23 L229.3,528.91 L231.3,529.6 L233.3,530.28 L235.3,530.97 L237.3,531.65 L239.3,532.34 L241.3,533.02 L243.3,533.7 L245.3,534.38 L247.3,535.05 L249.3,535.71 L251.3,536.36 L253.3,536.99 L255.3,537.61 L257.3,538.22 L259.3,538.83 L261.3,539.45 L263.3,540.05 L265.3,540.66 L267.3,541.27 L269.3,541.88 L271.3,542.49 L273.3,543.1 L275.3,543.71 L277.3,544.32 L279.3,544.93 L281.3,545.54 L283.3,546.15 L285.3,546.75 L287.3,547.35 L289.3,547.96 L291.3,548.56 L293.3,549.16 L295.3,549.77 L297.3,550.37 L299.3,550.97 L301.3,551.57 L303.3,552.17 L305.3,552.78 L307.3,553.38 L309.3,553.97 L311.3,554.55 L313.3,555.1 L315.3,555.6 L317.3,556.05 L319.3,556.45 L321.3,556.8 L323.3,557.13 L325.3,557.45 L327.3,557.76 L329.3,558.07 L331.3,558.38 L333.3,558.69 L335.3,559 L337.3,559.31 L339.3,559.63 L341.3,559.94 L343.3,560.24 L345.3,560.54 L347.3,560.81 L349.3,561.05 L351.3,561.24 L353.3,561.37 L355.3,561.46 L357.3,561.53 L359.3,561.58 L361.3,561.63 L363.3,561.67 L365.3,561.71 L367.3,561.76 L369.3,561.8 L371.3,561.83 L373.3,561.84 L375.3,561.82 L377.3,561.72 L379.3,561.54 L381.3,561.26 L383.3,560.9 L385.3,560.49 L387.3,560.04 L389.3,559.55 L391.3,559 L393.3,558.38 L395.3,557.66 L397.3,556.86 L399.3,556.01 L401.3,555.13 L403.3,554.23 L405.3,553.33 L407.3,552.43 L409.3,551.53 L411.3,550.62 L413.3,549.72 L415.3,548.81 L417.3,547.89 L419.3,546.96 L421.3,546.01 L423.3,545.04 L425.3,544.06 L427.3,543.07 L429.3,542.08 L431.3,541.09 L433.3,540.1 L435.3,539.11 L437.3,538.12 L439.3,537.12 L441.3,536.14 L443.3,535.16 L445.3,534.19 L447.3,533.24 L449.3,532.3 L451.3,531.38 L453.3,530.47 L455.3,529.57 L457.3,528.66 L459.3,527.76 L461.3,526.86 L463.3,525.96 L465.3,525.06 L467.3,524.16 L469.3,523.27 L471.3,522.4 L473.3,521.56 L475.3,520.75 L477.3,519.96 L479.3,519.2 L481.3,518.44 L483.3,517.69 L485.3,516.96 L487.3,516.23 L489.3,515.53 L491.3,514.86 L493.3,514.2 L495.3,513.57 L497.3,512.94 L499.3,512.31 L501.3,511.69 L503.3,511.07 L505.3,510.46 L507.3,509.86 L509.3,509.27 L511.3,508.68 L513.3,508.11 L515.3,507.53 L517.3,506.97 L519.3,506.42 L521.3,505.89 L523.3,505.4 L525.3,504.95 L527.3,504.52 L529.3,504.11 L531.3,503.71 L533.3,503.31 L535.3,502.91 L537.3,502.5 L539.3,502.07 L541.3,501.61 L543.3,501.14 L545.3,500.65 L547.3,500.15 L549.3,499.65 L551.3,499.15 L553.3,498.66 L555.3,498.18 L557.3,497.73 L559.3,497.3 L561.3,496.9 L563.3,496.52 L565.3,496.14 L567.3,495.77 L569.3,495.39 L571.3,495.01 L573.3,494.61 L575.3,494.2 L577.3,493.77 L579.3,493.32 L581.3,492.87 L583.3,492.41 L585.3,491.96 L587.3,491.51 L589.3,491.08 L591.3,490.68 L593.3,490.32 L595.3,489.99 L597.3,489.69 L599.3,489.4 L601.3,489.12 L603.3,488.84 L605.3,488.56 L607.3,488.28 L609.3,487.99 L611.3,487.69 L613.3,487.38 L615.3,487.07 L617.3,486.76 L619.3,486.45 L621.3,486.15 L623.3,485.85 L625.3,485.57 L627.3,485.3 L629.3,485.05 L631.3,484.82 L633.3,484.59 L635.3,484.37 L637.3,484.14 L639.3,483.92 L641.3,483.7 L643.3,483.47 L645.3,483.25 L647.3,483.02 L649.3,482.79 L651.3,482.56 L653.3,482.33 L655.3,482.11 L657.3,481.89 L659.3,481.7 L661.3,481.53 L663.3,481.39 L665.3,481.28 L667.3,481.19 L669.3,481.11 L671.3,481.03 L673.3,480.95 L675.3,480.87 L677.3,480.78 L679.3,480.67 L681.3,480.55 L683.3,480.41 L685.3,480.26 L687.3,480.11 L689.3,479.95 L691.3,479.8 L693.3,479.66 L695.3,479.53 L697.3,479.43 L699.3,479.36 L701.3,479.3 L703.3,479.25 L705.3,479.2 L707.3,479.16 L709.3,479.11 L711.3,479.05 L713.3,478.99 L715.3,478.91 L717.3,478.81 L719.3,478.7 L721.3,478.58 L723.3,478.46 L725.3,478.33 L727.3,478.19 L729.3,478.04 L731.3,477.88 L733.3,477.69 L735.3,477.5 L737.3,477.29 L739.3,477.08 L741.3,476.87 L743.3,476.66 L745.3,476.46 L747.3,476.28 L749.3,476.12 L751.3,475.98 L753.3,475.88 L755.3,475.79 L757.3,475.71 L759.3,475.63 L761.3,475.57 L763.3,475.51 L765.3,475.47 L767.3,475.44 L769.3,475.42 L771.3,475.42 L773.3,475.42 L775.3,475.43 L777.3,475.43 L779.3,475.44 L781.3,475.45 L783.3,475.45 L785.3,475.46 L787.3,475.46 L789.3,475.47 L791.3,475.47 L793.3,475.48 L795.3,475.49 L797.3,475.49 L799.3,475.49 L801.3,475.5 L803.3,475.5 L805.3,475.5 L807.3,475.5 L809.3,475.5 L811.3,475.5 L813.3,475.5 L815.3,475.5 L817.3,475.5 L819.3,475.5 L821.3,475.5 L823.3,475.5 L825.3,475.5 L827.3,475.5 L829.3,475.5 L831.3,475.5 L833.3,475.5 L835.3,475.5 L837.3,475.5 L839.3,475.5 L841.3,475.5 L843.3,475.5 L845.3,475.5 L847.3,475.5 L849.3,475.5 L851.3,475.5 L853.3,475.5 L855.3,475.5 L857.3,475.5 L859.3,475.5 L861.3,475.5 L863.3,475.5 L865.3,475.5 L867.3,475.5 L869.3,475.5 L871.3,475.5 L873.3,475.5 L875.3,475.5 L877.3,475.5 L879.3,475.5 L881.3,475.5 L883.3,475.5 L885.3,475.5 L887.3,475.5 L889.3,475.5 L891.3,475.5 L893.3,475.5 L895.3,475.5 L897.3,475.5 L899.3,475.5 L901.3,475.5 L903.3,475.5 L905.3,475.5 L907.3,475.5 L909.3,475.5 L911.3,475.5 L913.3,475.5 L915.3,475.5 L917.3,475.5 L919.3,475.5 L921.3,475.5 L923.3,475.5 L925.3,475.5 L927.3,475.5 L929.3,475.5 L931.3,475.5 L933.3,475.5 L935.3,475.5 L937.3,475.5 L939.3,475.5 L941.3,475.5 L943.3,475.5 L945.3,475.5 L947.3,475.5 L949.3,475.5 L951.3,475.5 L953.3,475.5 L955.3,475.5 L957.3,475.5 L959.3,475.5 L961.3,475.5 L963.3,475.5 L965.3,475.5 L967.3,475.5 L969.3,475.5 L971.3,475.5 L973.3,475.5 L975.3,475.5 L977.3,475.5 L979.3,475.5 L981.3,475.5 L983.3,475.5 L985.3,475.5 L987.3,475.5 L989.3,475.5 L991.3,475.5 L993.3,475.5 L995.3,475.5 L997.3,475.5 L999.3,475.51 L1001.3,475.51 L1003.3,475.52 L1005.3,475.53 L1007.3,475.54 L1009.3,475.55 L1011.3,475.56 L1013.3,475.57 L1015.3,475.58 L1017.3,475.59 L1019.3,475.6 L1021.3,475.61 L1023.3,475.62 L1025.3,475.63 L1027.3,475.64 L1029.3,475.65 L1031.3,475.66 L1033.3,475.67 L1035.3,475.68 L1037.3,475.69 L1039.3,475.7 L1041.3,475.71 L1043.3,475.72 L1045.3,475.73 L1047.3,475.74 L1049.3,475.75 L1051.3,475.76 L1053.3,475.77 L1055.3,475.78 L1057.3,475.79 L1059.3,475.8 L1061.3,475.81 L1063.3,475.82 L1065.3,475.83 L1067.3,475.84 L1069.3,475.85 L1071.3,475.86 L1073.3,475.87 L1075.3,475.88 L1077.3,475.89 L1079.3,475.9 L1081.3,475.91 L1083.3,475.92 L1085.3,475.93 L1087.3,475.94 L1089.3,475.95 L1091.3,475.96 L1093.3,475.97 L1095.3,475.99 L1097.3,476.02 L1099.3,476.07 L1101.3,476.15 L1103.3,476.24 L1105.3,476.36 L1107.3,476.48 L1109.3,476.61 L1111.3,476.74 L1113.3,476.87 L1115.3,477 L1117.3,477.13 L1119.3,477.26 L1121.3,477.39 L1123.3,477.52 L1125.3,477.65 L1127.3,477.78 L1129.3,477.91 L1131.3,478.04 L1133.3,478.17 L1135.3,478.31 L1137.3,478.44 L1139.3,478.59 L1141.3,478.75 L1143.3,478.93 L1145.3,479.11 L1147.3,479.31 L1149.3,479.51 L1151.3,479.72 L1153.3,479.92 L1155.3,480.13 L1157.3,480.33 L1159.3,480.54 L1161.3,480.75 L1163.3,480.95 L1165.3,481.16 L1167.3,481.36 L1169.3,481.57 L1171.3,481.77 L1173.3,481.97 L1175.3,482.17 L1177.3,482.37 L1179.3,482.55 L1181.3,482.73 L1183.3,482.91 L1185.3,483.08 L1187.3,483.26 L1189.3,483.43 L1191.3,483.61 L1193.3,483.78 L1195.3,483.95 L1197.3,484.13 L1199.3,484.3 L1201.3,484.47 L1203.3,484.65 L1205.3,484.82 L1207.3,484.99 L1209.3,485.16 L1211.3,485.32 L1213.3,485.49 L1215.3,485.64 L1217.3,485.8 L1219.3,485.95 L1221.3,486.1 L1223.3,486.25 L1225.3,486.4 L1227.3,486.55 L1229.3,486.7 L1231.3,486.85 L1233.3,487 L1235.3,487.15 L1237.3,487.3 L1239.3,487.45 L1241.3,487.61 L1243.3,487.78 L1245.3,487.98 L1247.3,488.2 L1249.3,488.46 L1251.3,488.74 L1253.3,489.03 L1255.3,489.34 L1257.3,489.65 L1259.3,489.96 L1261.3,490.27 L1263.3,490.58 L1265.3,490.89 L1267.3,491.21 L1269.3,491.52 L1271.3,491.83 L1273.3,492.14 L1275.3,492.46 L1277.3,492.78 L1279.3,493.11 L1281.3,493.47 L1283.3,493.85 L1285.3,494.24 L1287.3,494.65 L1289.3,495.07 L1291.3,495.49 L1293.3,495.91 L1295.3,496.33 L1297.3,496.75 L1299.3,497.18 L1301.3,497.6 L1303.3,498.02 L1305.3,498.44 L1307.3,498.87 L1309.3,499.29 L1311.3,499.72 L1313.3,500.16 L1315.3,500.61 L1317.3,501.08 L1319.3,501.57 L1321.3,502.07 L1323.3,502.58 L1325.3,503.09 L1327.3,503.6 L1329.3,504.12 L1331.3,504.63 L1333.3,505.14 L1335.3,505.66 L1337.3,506.17 L1339.3,506.68 L1341.3,507.2 L1343.3,507.71 L1345.3,508.22 L1347.3,508.74 L1349.3,509.25 L1351.3,509.77 L1353.3,510.28 L1355.3,510.79 L1357.3,511.3 L1359.3,511.81 L1361.3,512.32 L1363.3,512.82 L1365.3,513.32 L1367.3,513.82 L1369.3,514.32 L1371.3,514.82 L1373.3,515.32 L1375.3,515.83 L1377.3,516.33 L1379.3,516.83 L1381.3,517.33 L1383.3,517.83 L1385.3,518.32 L1387.3,518.83 L1389.3,519.33 L1391.3,519.83 L1393.3,520.33 L1395.3,520.83 L1397.3,521.33 L1399.3,521.83 L1401.3,522.33 L1403.3,522.83 L1405.3,523.33 L1407.3,523.82 L1409.3,524.32 L1411.3,524.82 L1413.3,525.32 L1415.3,525.82 L1417.3,526.31 L1419.3,526.78 L1421.3,527.25 L1423.3,527.71 L1425.3,528.15 L1427.3,528.59 L1429.3,529.03 L1431.3,529.47 L1433.3,529.91 L1435.3,530.34 L1437.3,530.78 L1439.3,531.22 L1441.3,531.65 L1443.3,532.09 L1445.3,532.53 L1447.3,532.96 L1449.3,533.4 L1451.3,533.84 L1453.3,534.28 L1455.3,534.71 L1457.3,535.15 L1459.3,535.59 L1461.3,536.02 L1463.3,536.46 L1465.3,536.9 L1467.3,537.33 L1469.3,537.77 L1471.3,538.2 L1473.3,538.62 L1475.3,539.02 L1477.3,539.37 L1479.3,539.65 L1479.5,539.85" class="s" stroke="#000" stroke-dasharray="17.5 17.3"/>
<path d="M103.3,554 L105.3,554.39 L107.3,554.77 L109.3,555.16 L111.3,555.55 L113.3,555.93 L115.3,556.32 L117.3,556.7 L119.3,557.08 L121.3,557.46 L123.3,557.82 L125.3,558.16 L127.3,558.5 L129.3,558.82 L131.3,559.13 L133.3,559.45 L135.3,559.76 L137.3,560.07 L139.3,560.38 L141.3,560.69 L143.3,561 L145.3,561.31 L147.3,561.63 L149.3,561.94 L151.3,562.25 L153.3,562.55 L155.3,562.85 L157.3,563.12 L159.3,563.38 L161.3,563.62 L163.3,563.83 L165.3,564.02 L167.3,564.19 L169.3,564.3 L171.3,564.34 L173.3,564.3 L175.3,564.18 L177.3,563.99 L179.3,563.77 L181.3,563.52 L183.3,563.27 L185.3,563.02 L187.3,562.75 L189.3,562.46 L191.3,562.14 L193.3,561.75 L195.3,561.29 L197.3,560.77 L199.3,560.21 L201.3,559.62 L203.3,559.03 L205.3,558.43 L207.3,557.83 L209.3,557.23 L211.3,556.62 L213.3,556.02 L215.3,555.42 L217.3,554.82 L219.3,554.22 L221.3,553.6 L223.3,552.96 L225.3,552.28 L227.3,551.55 L229.3,550.77 L231.3,549.95 L233.3,549.09 L235.3,548.23 L237.3,547.35 L239.3,546.48 L241.3,545.6 L243.3,544.72 L245.3,543.85 L247.3,542.97 L249.3,542.09 L251.3,541.22 L253.3,540.35 L255.3,539.49 L257.3,538.66 L259.3,537.86 L261.3,537.11 L263.3,536.4 L265.3,535.73 L267.3,535.07 L269.3,534.43 L271.3,533.78 L273.3,533.13 L275.3,532.47 L277.3,531.77 L279.3,531.03 L281.3,530.24 L283.3,529.38 L285.3,528.49 L287.3,527.57 L289.3,526.64 L291.3,525.71 L293.3,524.79 L295.3,523.88 L297.3,522.98 L299.3,522.09 L301.3,521.22 L303.3,520.35 L305.3,519.48 L307.3,518.62 L309.3,517.75 L311.3,516.89 L313.3,516.02 L315.3,515.16 L317.3,514.3 L319.3,513.44 L321.3,512.58 L323.3,511.74 L325.3,510.91 L327.3,510.08 L329.3,509.27 L331.3,508.46 L333.3,507.65 L335.3,506.84 L337.3,506.03 L339.3,505.23 L341.3,504.42 L343.3,503.61 L345.3,502.81 L347.3,502 L349.3,501.19 L351.3,500.39 L353.3,499.59 L355.3,498.81 L357.3,498.06 L359.3,497.34 L361.3,496.66 L363.3,496.01 L365.3,495.37 L367.3,494.75 L369.3,494.13 L371.3,493.51 L373.3,492.9 L375.3,492.28 L377.3,491.66 L379.3,491.05 L381.3,490.43 L383.3,489.81 L385.3,489.2 L387.3,488.59 L389.3,487.99 L391.3,487.41 L393.3,486.87 L395.3,486.36 L397.3,485.88 L399.3,485.42 L401.3,484.98 L403.3,484.54 L405.3,484.1 L407.3,483.66 L409.3,483.22 L411.3,482.79 L413.3,482.35 L415.3,481.91 L417.3,481.48 L419.3,481.04 L421.3,480.61 L423.3,480.2 L425.3,479.8 L427.3,479.43 L429.3,479.1 L431.3,478.78 L433.3,478.49 L435.3,478.2 L437.3,477.91 L439.3,477.63 L441.3,477.35 L443.3,477.06 L445.3,476.78 L447.3,476.5 L449.3,476.21 L451.3,475.93 L453.3,475.65 L455.3,475.38 L457.3,475.11 L459.3,474.85 L461.3,474.61 L463.3,474.39 L465.3,474.17 L467.3,473.96 L469.3,473.76 L471.3,473.56 L473.3,473.36 L475.3,473.15 L477.3,472.95 L479.3,472.75 L481.3,472.55 L483.3,472.37 L485.3,472.19 L487.3,472.03 L489.3,471.9 L491.3,471.77 L493.3,471.66 L495.3,471.55 L497.3,471.45 L499.3,471.34 L501.3,471.24 L503.3,471.13 L505.3,471.03 L507.3,470.93 L509.3,470.82 L511.3,470.72 L513.3,470.62 L515.3,470.53 L517.3,470.44 L519.3,470.36 L521.3,470.29 L523.3,470.23 L525.3,470.16 L527.3,470.1 L529.3,470.04 L531.3,469.98 L533.3,469.92 L535.3,469.86 L537.3,469.8 L539.3,469.74 L541.3,469.68 L543.3,469.62 L545.3,469.57 L547.3,469.52 L549.3,469.47 L551.3,469.44 L553.3,469.42 L555.3,469.41 L557.3,469.4 L559.3,469.4 L561.3,469.4 L563.3,469.4 L565.3,469.4 L567.3,469.4 L569.3,469.4 L571.3,469.4 L573.3,469.4 L575.3,469.4 L577.3,469.4 L579.3,469.4 L581.3,469.41 L583.3,469.42 L585.3,469.44 L587.3,469.48 L589.3,469.52 L591.3,469.57 L593.3,469.63 L595.3,469.69 L597.3,469.74 L599.3,469.8 L601.3,469.86 L603.3,469.92 L605.3,469.98 L607.3,470.03 L609.3,470.09 L611.3,470.15 L613.3,470.21 L615.3,470.27 L617.3,470.33 L619.3,470.39 L621.3,470.45 L623.3,470.52 L625.3,470.59 L627.3,470.66 L629.3,470.73 L631.3,470.8 L633.3,470.87 L635.3,470.94 L637.3,471.01 L639.3,471.08 L641.3,471.15 L643.3,471.22 L645.3,471.29 L647.3,471.36 L649.3,471.43 L651.3,471.49 L653.3,471.56 L655.3,471.63 L657.3,471.69 L659.3,471.74 L661.3,471.77 L663.3,471.8 L665.3,471.82 L667.3,471.83 L669.3,471.84 L671.3,471.85 L673.3,471.86 L675.3,471.87 L677.3,471.87 L679.3,471.88 L681.3,471.89 L683.3,471.9 L685.3,471.91 L687.3,471.92 L689.3,471.93 L691.3,471.93 L693.3,471.94 L695.3,471.95 L697.3,471.96 L699.3,471.97 L701.3,471.98 L703.3,472 L705.3,472.02 L707.3,472.06 L709.3,472.11 L711.3,472.17 L713.3,472.23 L715.3,472.3 L717.3,472.37 L719.3,472.44 L721.3,472.51 L723.3,472.58 L725.3,472.65 L727.3,472.72 L729.3,472.79 L731.3,472.86 L733.3,472.93 L735.3,473 L737.3,473.07 L739.3,473.14 L741.3,473.21 L743.3,473.28 L745.3,473.36 L747.3,473.43 L749.3,473.51 L751.3,473.58 L753.3,473.66 L755.3,473.74 L757.3,473.82 L759.3,473.9 L761.3,473.98 L763.3,474.06 L765.3,474.14 L767.3,474.22 L769.3,474.3 L771.3,474.38 L773.3,474.46 L775.3,474.54 L777.3,474.62 L779.3,474.7 L781.3,474.77 L783.3,474.84 L785.3,474.9 L787.3,474.95 L789.3,474.97 L791.3,474.99 L793.3,475 L795.3,475 L797.3,475 L799.3,475 L801.3,475 L803.3,475 L805.3,475 L807.3,475 L809.3,475 L811.3,475 L813.3,475 L815.3,475 L817.3,475 L819.3,475 L821.3,475 L823.3,475 L825.3,475 L827.3,475 L829.3,475 L831.3,475 L833.3,475 L835.3,475 L837.3,475 L839.3,475.01 L841.3,475.02 L843.3,475.03 L845.3,475.04 L847.3,475.05 L849.3,475.06 L851.3,475.08 L853.3,475.09 L855.3,475.1 L857.3,475.12 L859.3,475.13 L861.3,475.14 L863.3,475.16 L865.3,475.17 L867.3,475.18 L869.3,475.2 L871.3,475.21 L873.3,475.22 L875.3,475.24 L877.3,475.25 L879.3,475.26 L881.3,475.28 L883.3,475.29 L885.3,475.3 L887.3,475.32 L889.3,475.33 L891.3,475.34 L893.3,475.36 L895.3,475.37 L897.3,475.38 L899.3,475.39 L901.3,475.4 L903.3,475.41 L905.3,475.42 L907.3,475.43 L909.3,475.44 L911.3,475.45 L913.3,475.45 L915.3,475.46 L917.3,475.47 L919.3,475.48 L921.3,475.49 L923.3,475.49 L925.3,475.5 L927.3,475.51 L929.3,475.52 L931.3,475.53 L933.3,475.53 L935.3,475.54 L937.3,475.55 L939.3,475.56 L941.3,475.57 L943.3,475.57 L945.3,475.58 L947.3,475.59 L949.3,475.6 L951.3,475.61 L953.3,475.61 L955.3,475.62 L957.3,475.63 L959.3,475.64 L961.3,475.65 L963.3,475.65 L965.3,475.66 L967.3,475.67 L969.3,475.68 L971.3,475.69 L973.3,475.69 L975.3,475.7 L977.3,475.71 L979.3,475.72 L981.3,475.73 L983.3,475.73 L985.3,475.74 L987.3,475.75 L989.3,475.76 L991.3,475.77 L993.3,475.77 L995.3,475.78 L997.3,475.79 L999.3,475.79 L1001.3,475.8 L1003.3,475.8 L1005.3,475.8 L1007.3,475.8 L1009.3,475.8 L1011.3,475.8 L1013.3,475.8 L1015.3,475.8 L1017.3,475.8 L1019.3,475.8 L1021.3,475.8 L1023.3,475.8 L1025.3,475.8 L1027.3,475.8 L1029.3,475.8 L1031.3,475.8 L1033.3,475.8 L1035.3,475.8 L1037.3,475.8 L1039.3,475.8 L1041.3,475.8 L1043.3,475.8 L1045.3,475.8 L1047.3,475.8 L1049.3,475.8 L1051.3,475.8 L1053.3,475.8 L1055.3,475.8 L1057.3,475.8 L1059.3,475.8 L1061.3,475.8 L1063.3,475.8 L1065.3,475.8 L1067.3,475.8 L1069.3,475.8 L1071.3,475.8 L1073.3,475.8 L1075.3,475.8 L1077.3,475.8 L1079.3,475.8 L1081.3,475.8 L1083.3,475.8 L1085.3,475.8 L1087.3,475.8 L1089.3,475.8 L1091.3,475.8 L1093.3,475.8 L1095.3,475.8 L1097.3,475.79 L1099.3,475.79 L1101.3,475.78 L1103.3,475.76 L1105.3,475.75 L1107.3,475.73 L1109.3,475.71 L1111.3,475.69 L1113.3,475.67 L1115.3,475.65 L1117.3,475.63 L1119.3,475.61 L1121.3,475.59 L1123.3,475.57 L1125.3,475.55 L1127.3,475.53 L1129.3,475.51 L1131.3,475.49 L1133.3,475.47 L1135.3,475.45 L1137.3,475.43 L1139.3,475.41 L1141.3,475.39 L1143.3,475.37 L1145.3,475.35 L1147.3,475.33 L1149.3,475.31 L1151.3,475.29 L1153.3,475.27 L1155.3,475.25 L1157.3,475.23 L1159.3,475.21 L1161.3,475.19 L1163.3,475.17 L1165.3,475.15 L1167.3,475.13 L1169.3,475.11 L1171.3,475.09 L1173.3,475.07 L1175.3,475.05 L1177.3,475.04 L1179.3,475.03 L1181.3,475.03 L1183.3,475.03 L1185.3,475.04 L1187.3,475.06 L1189.3,475.07 L1191.3,475.08 L1193.3,475.1 L1195.3,475.11 L1197.3,475.13 L1199.3,475.14 L1201.3,475.16 L1203.3,475.17 L1205.3,475.19 L1207.3,475.2 L1209.3,475.22 L1211.3,475.23 L1213.3,475.25 L1215.3,475.26 L1217.3,475.28 L1219.3,475.29 L1221.3,475.31 L1223.3,475.32 L1225.3,475.34 L1227.3,475.36 L1229.3,475.38 L1231.3,475.4 L1233.3,475.43 L1235.3,475.48 L1237.3,475.52 L1239.3,475.58 L1241.3,475.64 L1243.3,475.7 L1245.3,475.76 L1247.3,475.82 L1249.3,475.88 L1251.3,475.94 L1253.3,476 L1255.3,476.06 L1257.3,476.12 L1259.3,476.18 L1261.3,476.24 L1263.3,476.3 L1265.3,476.36 L1267.3,476.42 L1269.3,476.48 L1271.3,476.54 L1273.3,476.6 L1275.3,476.66 L1277.3,476.72 L1279.3,476.78 L1281.3,476.84 L1283.3,476.91 L1285.3,476.99 L1287.3,477.08 L1289.3,477.17 L1291.3,477.28 L1293.3,477.4 L1295.3,477.52 L1297.3,477.63 L1299.3,477.75 L1301.3,477.87 L1303.3,477.99 L1305.3,478.11 L1307.3,478.23 L1309.3,478.35 L1311.3,478.47 L1313.3,478.59 L1315.3,478.71 L1317.3,478.83 L1319.3,478.95 L1321.3,479.08 L1323.3,479.21 L1325.3,479.36 L1327.3,479.53 L1329.3,479.72 L1331.3,479.92 L1333.3,480.14 L1335.3,480.36 L1337.3,480.58 L1339.3,480.81 L1341.3,481.04 L1343.3,481.26 L1345.3,481.49 L1347.3,481.71 L1349.3,481.94 L1351.3,482.18 L1353.3,482.42 L1355.3,482.67 L1357.3,482.92 L1359.3,483.19 L1361.3,483.45 L1363.3,483.71 L1365.3,483.98 L1367.3,484.25 L1369.3,484.52 L1371.3,484.8 L1373.3,485.09 L1375.3,485.41 L1377.3,485.76 L1379.3,486.14 L1381.3,486.54 L1383.3,486.95 L1385.3,487.37 L1387.3,487.79 L1389.3,488.22 L1391.3,488.64 L1393.3,489.07 L1395.3,489.49 L1397.3,489.92 L1399.3,490.34 L1401.3,490.78 L1403.3,491.22 L1405.3,491.69 L1407.3,492.18 L1409.3,492.69 L1411.3,493.23 L1413.3,493.77 L1415.3,494.32 L1417.3,494.88 L1419.3,495.43 L1421.3,495.98 L1423.3,496.54 L1425.3,497.09 L1427.3,497.65 L1429.3,498.2 L1431.3,498.76 L1433.3,499.32 L1435.3,499.9 L1437.3,500.51 L1439.3,501.16 L1441.3,501.86 L1443.3,502.61 L1445.3,503.39 L1447.3,504.18 L1449.3,504.98 L1451.3,505.79 L1453.3,506.59 L1455.3,507.4 L1457.3,508.2 L1459.3,509.01 L1461.3,509.82 L1463.3,510.64 L1465.3,511.47 L1467.3,512.32 L1469.3,513.18 L1471.3,514.05 L1473.3,514.9 L1475.3,515.71 L1477.3,516.42 L1479.3,516.99 L1479.5,517.4" class="s" stroke="#000" stroke-dasharray="14.5 6.7 0 7.3 0 6" stroke-linecap="round"/>
<path d="M103.3,492.7 L105.3,492.74 L107.3,492.78 L109.3,492.82 L111.3,492.86 L113.3,492.9 L115.3,492.94 L117.3,492.98 L119.3,493.02 L121.3,493.06 L123.3,493.1 L125.3,493.14 L127.3,493.18 L129.3,493.2 L131.3,493.21 L133.3,493.2 L135.3,493.17 L137.3,493.12 L139.3,493.05 L141.3,492.98 L143.3,492.9 L145.3,492.83 L147.3,492.75 L149.3,492.67 L151.3,492.59 L153.3,492.52 L155.3,492.44 L157.3,492.36 L159.3,492.29 L161.3,492.21 L163.3,492.14 L165.3,492.07 L167.3,492.01 L169.3,491.96 L171.3,491.92 L173.3,491.88 L175.3,491.84 L177.3,491.8 L179.3,491.76 L181.3,491.73 L183.3,491.69 L185.3,491.65 L187.3,491.61 L189.3,491.58 L191.3,491.54 L193.3,491.5 L195.3,491.46 L197.3,491.43 L199.3,491.39 L201.3,491.35 L203.3,491.31 L205.3,491.28 L207.3,491.24 L209.3,491.2 L211.3,491.16 L213.3,491.13 L215.3,491.1 L217.3,491.08 L219.3,491.08 L221.3,491.1 L223.3,491.13 L225.3,491.19 L227.3,491.25 L229.3,491.31 L231.3,491.38 L233.3,491.45 L235.3,491.52 L237.3,491.59 L239.3,491.68 L241.3,491.79 L243.3,491.91 L245.3,492.04 L247.3,492.19 L249.3,492.34 L251.3,492.49 L253.3,492.65 L255.3,492.8 L257.3,492.95 L259.3,493.11 L261.3,493.26 L263.3,493.42 L265.3,493.57 L267.3,493.72 L269.3,493.88 L271.3,494.03 L273.3,494.19 L275.3,494.34 L277.3,494.5 L279.3,494.67 L281.3,494.84 L283.3,495.02 L285.3,495.21 L287.3,495.39 L289.3,495.58 L291.3,495.77 L293.3,495.97 L295.3,496.16 L297.3,496.37 L299.3,496.58 L301.3,496.81 L303.3,497.06 L305.3,497.31 L307.3,497.58 L309.3,497.84 L311.3,498.11 L313.3,498.37 L315.3,498.64 L317.3,498.91 L319.3,499.17 L321.3,499.44 L323.3,499.71 L325.3,499.97 L327.3,500.24 L329.3,500.51 L331.3,500.78 L333.3,501.05 L335.3,501.33 L337.3,501.61 L339.3,501.9 L341.3,502.2 L343.3,502.5 L345.3,502.8 L347.3,503.1 L349.3,503.4 L351.3,503.7 L353.3,504 L355.3,504.3 L357.3,504.6 L359.3,504.9 L361.3,505.2 L363.3,505.5 L365.3,505.8 L367.3,506.11 L369.3,506.44 L371.3,506.78 L373.3,507.16 L375.3,507.56 L377.3,507.98 L379.3,508.41 L381.3,508.85 L383.3,509.29 L385.3,509.73 L387.3,510.17 L389.3,510.61 L391.3,511.05 L393.3,511.49 L395.3,511.94 L397.3,512.39 L399.3,512.88 L401.3,513.4 L403.3,513.97 L405.3,514.58 L407.3,515.22 L409.3,515.89 L411.3,516.56 L413.3,517.24 L415.3,517.92 L417.3,518.6 L419.3,519.28 L421.3,519.96 L423.3,520.64 L425.3,521.32 L427.3,522 L429.3,522.68 L431.3,523.35 L433.3,524.02 L435.3,524.68 L437.3,525.34 L439.3,526 L441.3,526.66 L443.3,527.32 L445.3,527.98 L447.3,528.64 L449.3,529.3 L451.3,529.97 L453.3,530.65 L455.3,531.35 L457.3,532.08 L459.3,532.84 L461.3,533.61 L463.3,534.39 L465.3,535.18 L467.3,535.97 L469.3,536.76 L471.3,537.56 L473.3,538.35 L475.3,539.13 L477.3,539.91 L479.3,540.69 L481.3,541.45 L483.3,542.19 L485.3,542.94 L487.3,543.67 L489.3,544.41 L491.3,545.14 L493.3,545.87 L495.3,546.6 L497.3,547.34 L499.3,548.07 L501.3,548.8 L503.3,549.54 L505.3,550.27 L507.3,551 L509.3,551.73 L511.3,552.47 L513.3,553.2 L515.3,553.93 L517.3,554.66 L519.3,555.39 L521.3,556.12 L523.3,556.85 L525.3,557.58 L527.3,558.32 L529.3,559.05 L531.3,559.78 L533.3,560.51 L535.3,561.24 L537.3,561.97 L539.3,562.7 L541.3,563.44 L543.3,564.19 L545.3,564.96 L547.3,565.76 L549.3,566.58 L551.3,567.43 L553.3,568.29 L555.3,569.16 L557.3,570.03 L559.3,570.9 L561.3,571.77 L563.3,572.65 L565.3,573.52 L567.3,574.39 L569.3,575.27 L571.3,576.15 L573.3,577.05 L575.3,577.98 L577.3,578.96 L579.3,579.99 L581.3,581.07 L583.3,582.18 L585.3,583.31 L587.3,584.45 L589.3,585.59 L591.3,586.73 L593.3,587.88 L595.3,589.02 L597.3,590.18 L599.3,591.34 L601.3,592.51 L603.3,593.7 L605.3,594.89 L607.3,596.09 L609.3,597.29 L611.3,598.49 L613.3,599.69 L615.3,600.89 L617.3,602.1 L619.3,603.3 L621.3,604.5 L623.3,605.71 L625.3,606.91 L627.3,608.12 L629.3,609.32 L631.3,610.53 L633.3,611.73 L635.3,612.94 L637.3,614.14 L639.3,615.33 L641.3,616.5 L643.3,617.66 L645.3,618.79 L647.3,619.91 L649.3,621.02 L651.3,622.12 L653.3,623.22 L655.3,624.32 L657.3,625.41 L659.3,626.49 L661.3,627.56 L663.3,628.59 L665.3,629.58 L667.3,630.53 L669.3,631.46 L671.3,632.37 L673.3,633.27 L675.3,634.17 L677.3,635.06 L679.3,635.95 L681.3,636.83 L683.3,637.69 L685.3,638.51 L687.3,639.29 L689.3,640.04 L691.3,640.77 L693.3,641.48 L695.3,642.19 L697.3,642.89 L699.3,643.6 L701.3,644.33 L703.3,645.07 L705.3,645.87 L707.3,646.72 L709.3,647.63 L711.3,648.59 L713.3,649.59 L715.3,650.6 L717.3,651.63 L719.3,652.66 L721.3,653.7 L723.3,654.74 L725.3,655.79 L727.3,656.84 L729.3,657.89 L731.3,658.94 L733.3,660 L735.3,661.06 L737.3,662.13 L739.3,663.24 L741.3,664.39 L743.3,665.58 L745.3,666.82 L747.3,668.08 L749.3,669.36 L751.3,670.65 L753.3,671.94 L755.3,673.23 L757.3,674.52 L759.3,675.81 L761.3,677.1 L763.3,678.4 L765.3,679.7 L767.3,681 L769.3,682.31 L771.3,683.61 L773.3,684.92 L775.3,686.22 L777.3,687.52 L779.3,688.81 L781.3,690.07 L783.3,691.31 L785.3,692.5 L787.3,693.65 L789.3,694.78 L791.3,695.89 L793.3,696.98 L795.3,698.08 L797.3,699.16 L799.3,700.24 L801.3,701.28 L803.3,702.27 L805.3,703.17 L807.3,703.97 L809.3,704.69 L811.3,705.34 L813.3,705.97 L815.3,706.57 L817.3,707.17 L819.3,707.76 L821.3,708.32 L823.3,708.82 L825.3,709.23 L827.3,709.51 L829.3,709.65 L831.3,709.67 L833.3,709.58 L835.3,709.39 L837.3,709.08 L839.3,708.67 L841.3,708.15 L843.3,707.57 L845.3,706.94 L847.3,706.31 L849.3,705.66 L851.3,705 L853.3,704.33 L855.3,703.6 L857.3,702.8 L859.3,701.89 L861.3,700.87 L863.3,699.75 L865.3,698.57 L867.3,697.35 L869.3,696.13 L871.3,694.89 L873.3,693.66 L875.3,692.43 L877.3,691.2 L879.3,689.97 L881.3,688.74 L883.3,687.53 L885.3,686.33 L887.3,685.16 L889.3,684.01 L891.3,682.88 L893.3,681.77 L895.3,680.67 L897.3,679.56 L899.3,678.46 L901.3,677.36 L903.3,676.26 L905.3,675.16 L907.3,674.06 L909.3,672.97 L911.3,671.89 L913.3,670.83 L915.3,669.79 L917.3,668.77 L919.3,667.76 L921.3,666.75 L923.3,665.75 L925.3,664.75 L927.3,663.75 L929.3,662.75 L931.3,661.76 L933.3,660.77 L935.3,659.82 L937.3,658.92 L939.3,658.12 L941.3,657.42 L943.3,656.83 L945.3,656.32 L947.3,655.86 L949.3,655.43 L951.3,655 L953.3,654.57 L955.3,654.15 L957.3,653.72 L959.3,653.3 L961.3,652.87 L963.3,652.45 L965.3,652.02 L967.3,651.6 L969.3,651.17 L971.3,650.75 L973.3,650.31 L975.3,649.87 L977.3,649.41 L979.3,648.91 L981.3,648.36 L983.3,647.78 L985.3,647.16 L987.3,646.53 L989.3,645.89 L991.3,645.24 L993.3,644.59 L995.3,643.95 L997.3,643.3 L999.3,642.67 L1001.3,642.04 L1003.3,641.42 L1005.3,640.81 L1007.3,640.2 L1009.3,639.6 L1011.3,639 L1013.3,638.4 L1015.3,637.81 L1017.3,637.21 L1019.3,636.6 L1021.3,635.99 L1023.3,635.37 L1025.3,634.71 L1027.3,634 L1029.3,633.22 L1031.3,632.38 L1033.3,631.5 L1035.3,630.58 L1037.3,629.66 L1039.3,628.73 L1041.3,627.79 L1043.3,626.86 L1045.3,625.93 L1047.3,624.99 L1049.3,624.06 L1051.3,623.13 L1053.3,622.19 L1055.3,621.26 L1057.3,620.33 L1059.3,619.4 L1061.3,618.47 L1063.3,617.56 L1065.3,616.67 L1067.3,615.81 L1069.3,614.98 L1071.3,614.19 L1073.3,613.41 L1075.3,612.64 L1077.3,611.88 L1079.3,611.12 L1081.3,610.36 L1083.3,609.61 L1085.3,608.86 L1087.3,608.13 L1089.3,607.4 L1091.3,606.69 L1093.3,605.98 L1095.3,605.27 L1097.3,604.57 L1099.3,603.87 L1101.3,603.17 L1103.3,602.48 L1105.3,601.8 L1107.3,601.16 L1109.3,600.54 L1111.3,599.96 L1113.3,599.41 L1115.3,598.87 L1117.3,598.33 L1119.3,597.8 L1121.3,597.27 L1123.3,596.74 L1125.3,596.2 L1127.3,595.67 L1129.3,595.14 L1131.3,594.61 L1133.3,594.09 L1135.3,593.58 L1137.3,593.09 L1139.3,592.64 L1141.3,592.24 L1143.3,591.88 L1145.3,591.55 L1147.3,591.25 L1149.3,590.95 L1151.3,590.66 L1153.3,590.36 L1155.3,590.05 L1157.3,589.71 L1159.3,589.33 L1161.3,588.89 L1163.3,588.41 L1165.3,587.88 L1167.3,587.34 L1169.3,586.78 L1171.3,586.22 L1173.3,585.66 L1175.3,585.09 L1177.3,584.53 L1179.3,583.97 L1181.3,583.41 L1183.3,582.84 L1185.3,582.28 L1187.3,581.71 L1189.3,581.13 L1191.3,580.54 L1193.3,579.92 L1195.3,579.28 L1197.3,578.61 L1199.3,577.93 L1201.3,577.24 L1203.3,576.54 L1205.3,575.84 L1207.3,575.14 L1209.3,574.44 L1211.3,573.74 L1213.3,573.04 L1215.3,572.34 L1217.3,571.63 L1219.3,570.92 L1221.3,570.2 L1223.3,569.48 L1225.3,568.75 L1227.3,568.02 L1229.3,567.28 L1231.3,566.55 L1233.3,565.81 L1235.3,565.08 L1237.3,564.34 L1239.3,563.61 L1241.3,562.87 L1243.3,562.14 L1245.3,561.4 L1247.3,560.67 L1249.3,559.93 L1251.3,559.2 L1253.3,558.47 L1255.3,557.75 L1257.3,557.04 L1259.3,556.36 L1261.3,555.71 L1263.3,555.09 L1265.3,554.49 L1267.3,553.9 L1269.3,553.32 L1271.3,552.75 L1273.3,552.17 L1275.3,551.59 L1277.3,551.02 L1279.3,550.44 L1281.3,549.87 L1283.3,549.29 L1285.3,548.71 L1287.3,548.14 L1289.3,547.56 L1291.3,546.99 L1293.3,546.41 L1295.3,545.83 L1297.3,545.26 L1299.3,544.68 L1301.3,544.11 L1303.3,543.53 L1305.3,542.96 L1307.3,542.39 L1309.3,541.82 L1311.3,541.26 L1313.3,540.7 L1315.3,540.15 L1317.3,539.61 L1319.3,539.06 L1321.3,538.52 L1323.3,537.98 L1325.3,537.43 L1327.3,536.89 L1329.3,536.34 L1331.3,535.8 L1333.3,535.26 L1335.3,534.71 L1337.3,534.17 L1339.3,533.63 L1341.3,533.08 L1343.3,532.54 L1345.3,532 L1347.3,531.45 L1349.3,530.91 L1351.3,530.36 L1353.3,529.82 L1355.3,529.27 L1357.3,528.72 L1359.3,528.15 L1361.3,527.58 L1363.3,527 L1365.3,526.4 L1367.3,525.81 L1369.3,525.21 L1371.3,524.61 L1373.3,524.01 L1375.3,523.41 L1377.3,522.81 L1379.3,522.21 L1381.3,521.61 L1383.3,521.01 L1385.3,520.41 L1387.3,519.81 L1389.3,519.21 L1391.3,518.61 L1393.3,518.01 L1395.3,517.42 L1397.3,516.84 L1399.3,516.28 L1401.3,515.74 L1403.3,515.22 L1405.3,514.72 L1407.3,514.22 L1409.3,513.73 L1411.3,513.25 L1413.3,512.76 L1415.3,512.27 L1417.3,511.78 L1419.3,511.3 L1421.3,510.81 L1423.3,510.32 L1425.3,509.84 L1427.3,509.35 L1429.3,508.86 L1431.3,508.38 L1433.3,507.9 L1435.3,507.44 L1437.3,507.01 L1439.3,506.62 L1441.3,506.28 L1443.3,505.99 L1445.3,505.72 L1447.3,505.48 L1449.3,505.24 L1451.3,505.01 L1453.3,504.77 L1455.3,504.54 L1457.3,504.3 L1459.3,504.07 L1461.3,503.83 L1463.3,503.6 L1465.3,503.36 L1467.3,503.13 L1469.3,502.9 L1471.3,502.66 L1473.3,502.44 L1475.3,502.23 L1477.3,502.04 L1479.3,501.89 L1479.5,501.78" class="s" stroke="#000" />
</g>
<polyline points="722.59,445.3 722.59,635.77 860.21,635.77 860.21,445.3" fill="none" stroke="#ee1c1c" stroke-width="1.6"/>
<rect x="103.3" y="445.3" width="1376.2" height="285.7" class="ax"/>
<path d="M103.3,731v-14 M103.3,445.3v14 M240.92,731v-14 M240.92,445.3v14 M378.54,731v-14 M378.54,445.3v14 M516.16,731v-14 M516.16,445.3v14 M653.78,731v-14 M653.78,445.3v14 M791.4,731v-14 M791.4,445.3v14 M929.02,731v-14 M929.02,445.3v14 M1066.64,731v-14 M1066.64,445.3v14 M1204.26,731v-14 M1204.26,445.3v14 M1341.88,731v-14 M1341.88,445.3v14 M1479.5,731v-14 M1479.5,445.3v14 M103.3,445.3h14 M1479.5,445.3h-14 M103.3,540.53h14 M1479.5,540.53h-14 M103.3,635.77h14 M1479.5,635.77h-14 M103.3,731h14 M1479.5,731h-14" class="ax"/>
<text x="103.3" y="774.4" font-size="33" text-anchor="middle">0.5</text>
<text x="240.92" y="774.4" font-size="33" text-anchor="middle">0.6</text>
<text x="378.54" y="774.4" font-size="33" text-anchor="middle">0.7</text>
<text x="516.16" y="774.4" font-size="33" text-anchor="middle">0.8</text>
<text x="653.78" y="774.4" font-size="33" text-anchor="middle">0.9</text>
<text x="791.4" y="774.4" font-size="33" text-anchor="middle">1</text>
<text x="929.02" y="774.4" font-size="33" text-anchor="middle">1.1</text>
<text x="1066.64" y="774.4" font-size="33" text-anchor="middle">1.2</text>
<text x="1204.26" y="774.4" font-size="33" text-anchor="middle">1.3</text>
<text x="1341.88" y="774.4" font-size="33" text-anchor="middle">1.4</text>
<text x="1479.5" y="774.4" font-size="33" text-anchor="middle">1.5</text>
<text x="89.8" y="457.8" font-size="33" text-anchor="end">0</text>
<text x="89.8" y="553.03" font-size="33" text-anchor="end">-10</text>
<text x="89.8" y="648.27" font-size="33" text-anchor="end">-20</text>
<text x="89.8" y="743.5" font-size="33" text-anchor="end">-30</text>
<text x="790" y="819.6" font-size="37.2" text-anchor="middle">Frequency [GHz]</text>
<text transform="translate(29.5,592.3) rotate(-90)" font-size="36.2" text-anchor="middle">S-parameters [dB]</text>
<rect x="1311.4" y="507" width="148.6" height="208" class="ax" style="fill:#fff"/>
<line x1="1319" y1="535.1" x2="1392.2" y2="535.1" class="s" stroke="#000" stroke-dasharray="4 4.8"/>
<text x="1397.5" y="540.9" font-size="31.5">|<tspan font-style="italic" font-size="32" dy="0.9">S</tspan><tspan font-size="23.5" dx="2.8" dy="12.7">11</tspan><tspan dy="-13.6" dx="0.1">|</tspan></text>
<line x1="1319" y1="585.7" x2="1392.2" y2="585.7" class="s" stroke="#000" stroke-dasharray="17.5 17.3"/>
<text x="1397.5" y="591.5" font-size="31.5">|<tspan font-style="italic" font-size="32" dy="0.9">S</tspan><tspan font-size="23.5" dx="2.8" dy="12.7">21</tspan><tspan dy="-13.6" dx="0.1">|</tspan></text>
<line x1="1319" y1="636.1" x2="1392.2" y2="636.1" class="s" stroke="#000" stroke-dasharray="17.5 17.3"/>
<text x="1397.5" y="641.9" font-size="31.5">|<tspan font-style="italic" font-size="32" dy="0.9">S</tspan><tspan font-size="23.5" dx="2.8" dy="12.7">31</tspan><tspan dy="-13.6" dx="0.1">|</tspan></text>
<line x1="1319" y1="686.8" x2="1392.2" y2="686.8" class="s" stroke="#000" />
<text x="1397.5" y="692.6" font-size="31.5">|<tspan font-style="italic" font-size="32" dy="0.9">S</tspan><tspan font-size="23.5" dx="2.8" dy="12.7">41</tspan><tspan dy="-13.6" dx="0.1">|</tspan></text>
</svg></body></html>
